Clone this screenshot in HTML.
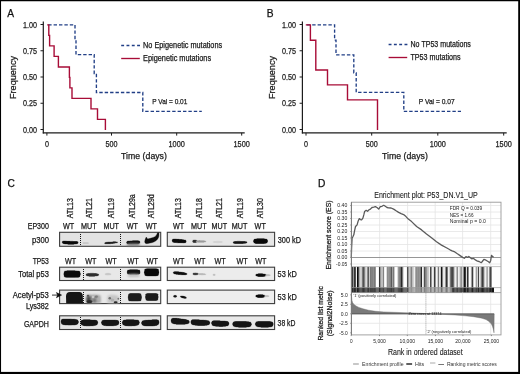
<!DOCTYPE html>
<html><head><meta charset="utf-8"><style>
html,body{margin:0;padding:0;background:#fff;}
svg{display:block;font-family:"Liberation Sans", sans-serif;will-change:transform;}
</style></head><body>
<svg width="520" height="374" viewBox="0 0 520 374">
<defs><filter id="bl3" x="-50%" y="-100%" width="200%" height="300%"><feGaussianBlur stdDeviation="0.3"/></filter><filter id="bl4" x="-50%" y="-100%" width="200%" height="300%"><feGaussianBlur stdDeviation="0.4"/></filter><filter id="bl5" x="-50%" y="-100%" width="200%" height="300%"><feGaussianBlur stdDeviation="0.5"/></filter><filter id="bl6" x="-50%" y="-100%" width="200%" height="300%"><feGaussianBlur stdDeviation="0.6"/></filter><filter id="bl7" x="-50%" y="-100%" width="200%" height="300%"><feGaussianBlur stdDeviation="0.7"/></filter><filter id="bl8" x="-50%" y="-100%" width="200%" height="300%"><feGaussianBlur stdDeviation="0.8"/></filter><filter id="bl9" x="-50%" y="-100%" width="200%" height="300%"><feGaussianBlur stdDeviation="0.9"/></filter><filter id="bl10" x="-50%" y="-100%" width="200%" height="300%"><feGaussianBlur stdDeviation="1.0"/></filter><filter id="bl11" x="-50%" y="-100%" width="200%" height="300%"><feGaussianBlur stdDeviation="1.1"/></filter><filter id="bl12" x="-50%" y="-100%" width="200%" height="300%"><feGaussianBlur stdDeviation="1.2"/></filter></defs>
<rect x="0" y="0" width="520" height="374" fill="#000"/>
<rect x="1.05" y="1.25" width="517.15" height="370.65" fill="#fff"/>
<text x="7.3" y="16.8" font-size="10.2" text-anchor="start" fill="#111" stroke="#111" stroke-width="0.25">A</text>
<line x1="43.3" y1="21.5" x2="43.3" y2="133.5" stroke="#1c1c1c" stroke-width="1.2"/>
<line x1="42.8" y1="132.9" x2="244.7" y2="132.9" stroke="#1c1c1c" stroke-width="1.2"/>
<line x1="40.5" y1="24.5" x2="43.3" y2="24.5" stroke="#1c1c1c" stroke-width="1"/>
<text x="36.9" y="27.6" font-size="8.6" text-anchor="end" fill="#222" textLength="14" lengthAdjust="spacingAndGlyphs" stroke="#222" stroke-width="0.25">1.00</text>
<line x1="40.5" y1="50.75" x2="43.3" y2="50.75" stroke="#1c1c1c" stroke-width="1"/>
<text x="36.9" y="53.85" font-size="8.6" text-anchor="end" fill="#222" textLength="14" lengthAdjust="spacingAndGlyphs" stroke="#222" stroke-width="0.25">0.75</text>
<line x1="40.5" y1="77.0" x2="43.3" y2="77.0" stroke="#1c1c1c" stroke-width="1"/>
<text x="36.9" y="80.1" font-size="8.6" text-anchor="end" fill="#222" textLength="14" lengthAdjust="spacingAndGlyphs" stroke="#222" stroke-width="0.25">0.50</text>
<line x1="40.5" y1="103.25" x2="43.3" y2="103.25" stroke="#1c1c1c" stroke-width="1"/>
<text x="36.9" y="106.35" font-size="8.6" text-anchor="end" fill="#222" textLength="14" lengthAdjust="spacingAndGlyphs" stroke="#222" stroke-width="0.25">0.25</text>
<line x1="40.5" y1="129.5" x2="43.3" y2="129.5" stroke="#1c1c1c" stroke-width="1"/>
<text x="36.9" y="132.6" font-size="8.6" text-anchor="end" fill="#222" textLength="14" lengthAdjust="spacingAndGlyphs" stroke="#222" stroke-width="0.25">0.00</text>
<line x1="46.9" y1="132.9" x2="46.9" y2="135.6" stroke="#1c1c1c" stroke-width="1"/>
<text x="46.9" y="146.8" font-size="8.4" text-anchor="middle" fill="#222" textLength="4" lengthAdjust="spacingAndGlyphs" stroke="#222" stroke-width="0.25">0</text>
<line x1="111.5" y1="132.9" x2="111.5" y2="135.6" stroke="#1c1c1c" stroke-width="1"/>
<text x="111.5" y="146.8" font-size="8.4" text-anchor="middle" fill="#222" textLength="12" lengthAdjust="spacingAndGlyphs" stroke="#222" stroke-width="0.25">500</text>
<line x1="176.7" y1="132.9" x2="176.7" y2="135.6" stroke="#1c1c1c" stroke-width="1"/>
<text x="176.7" y="146.8" font-size="8.4" text-anchor="middle" fill="#222" textLength="16.3" lengthAdjust="spacingAndGlyphs" stroke="#222" stroke-width="0.25">1000</text>
<line x1="241.7" y1="132.9" x2="241.7" y2="135.6" stroke="#1c1c1c" stroke-width="1"/>
<text x="241.7" y="146.8" font-size="8.4" text-anchor="middle" fill="#222" textLength="16.3" lengthAdjust="spacingAndGlyphs" stroke="#222" stroke-width="0.25">1500</text>
<text x="121.1" y="159.2" font-size="8.8" text-anchor="start" fill="#1a1a1a" textLength="45.8" lengthAdjust="spacingAndGlyphs" stroke="#1a1a1a" stroke-width="0.25">Time (days)</text>
<text transform="translate(16.199999999999996,77.5) rotate(-90)" font-size="9.6" text-anchor="middle" fill="#1a1a1a" textLength="43" lengthAdjust="spacingAndGlyphs" stroke="#1a1a1a" stroke-width="0.25">Frequency</text>
<path d="M47.2 24.5 H75 V39.5 H76 V54.3 H94.2 V73.2 H96.4 V92.2 H142.8 V111.1 H201.8" fill="none" stroke="#213f86" stroke-width="1.35" stroke-dasharray="3.4 2.0" stroke-dashoffset="-1" transform="translate(0,0.3)"/>
<path d="M47.2 24.5 H48.8 V35 H49.6 V45.5 H54.1 V56 H58.4 V66.6 H69.4 V77 H69.9 V87.5 H72 V98 H91 V108.5 H97.5 V119 H105.4 V129.5" fill="none" stroke="#a80c37" stroke-width="1.4" transform="translate(0,0.4)"/>
<line x1="121.2" y1="45.5" x2="140.0" y2="45.5" stroke="#213f86" stroke-width="1.35" stroke-dasharray="2.9 2.4"/>
<line x1="121.2" y1="58.5" x2="139.8" y2="58.5" stroke="#a80c37" stroke-width="1.35"/>
<text x="143.1" y="47.8" font-size="8.2" text-anchor="start" fill="#1a1a1a" textLength="79" lengthAdjust="spacingAndGlyphs" stroke="#1a1a1a" stroke-width="0.25">No Epigenetic mutations</text>
<text x="143.1" y="60.8" font-size="8.2" text-anchor="start" fill="#1a1a1a" textLength="68" lengthAdjust="spacingAndGlyphs" stroke="#1a1a1a" stroke-width="0.25">Epigenetic mutations</text>
<text x="152.3" y="103.9" font-size="8.0" text-anchor="start" fill="#1a1a1a" textLength="35" lengthAdjust="spacingAndGlyphs" stroke="#1a1a1a" stroke-width="0.25">P Val = 0.01</text>
<text x="266.8" y="16.8" font-size="10.2" text-anchor="start" fill="#111" stroke="#111" stroke-width="0.25">B</text>
<line x1="302.4" y1="21.5" x2="302.4" y2="133.5" stroke="#1c1c1c" stroke-width="1.2"/>
<line x1="301.9" y1="132.9" x2="506.7" y2="132.9" stroke="#1c1c1c" stroke-width="1.2"/>
<line x1="299.59999999999997" y1="24.5" x2="302.4" y2="24.5" stroke="#1c1c1c" stroke-width="1"/>
<text x="296.0" y="27.6" font-size="8.6" text-anchor="end" fill="#222" textLength="14" lengthAdjust="spacingAndGlyphs" stroke="#222" stroke-width="0.25">1.00</text>
<line x1="299.59999999999997" y1="50.75" x2="302.4" y2="50.75" stroke="#1c1c1c" stroke-width="1"/>
<text x="296.0" y="53.85" font-size="8.6" text-anchor="end" fill="#222" textLength="14" lengthAdjust="spacingAndGlyphs" stroke="#222" stroke-width="0.25">0.75</text>
<line x1="299.59999999999997" y1="77.0" x2="302.4" y2="77.0" stroke="#1c1c1c" stroke-width="1"/>
<text x="296.0" y="80.1" font-size="8.6" text-anchor="end" fill="#222" textLength="14" lengthAdjust="spacingAndGlyphs" stroke="#222" stroke-width="0.25">0.50</text>
<line x1="299.59999999999997" y1="103.25" x2="302.4" y2="103.25" stroke="#1c1c1c" stroke-width="1"/>
<text x="296.0" y="106.35" font-size="8.6" text-anchor="end" fill="#222" textLength="14" lengthAdjust="spacingAndGlyphs" stroke="#222" stroke-width="0.25">0.25</text>
<line x1="299.59999999999997" y1="129.5" x2="302.4" y2="129.5" stroke="#1c1c1c" stroke-width="1"/>
<text x="296.0" y="132.6" font-size="8.6" text-anchor="end" fill="#222" textLength="14" lengthAdjust="spacingAndGlyphs" stroke="#222" stroke-width="0.25">0.00</text>
<line x1="306" y1="132.9" x2="306" y2="135.6" stroke="#1c1c1c" stroke-width="1"/>
<text x="306" y="146.8" font-size="8.4" text-anchor="middle" fill="#222" textLength="4" lengthAdjust="spacingAndGlyphs" stroke="#222" stroke-width="0.25">0</text>
<line x1="371.7" y1="132.9" x2="371.7" y2="135.6" stroke="#1c1c1c" stroke-width="1"/>
<text x="371.7" y="146.8" font-size="8.4" text-anchor="middle" fill="#222" textLength="12" lengthAdjust="spacingAndGlyphs" stroke="#222" stroke-width="0.25">500</text>
<line x1="437.8" y1="132.9" x2="437.8" y2="135.6" stroke="#1c1c1c" stroke-width="1"/>
<text x="437.8" y="146.8" font-size="8.4" text-anchor="middle" fill="#222" textLength="16.3" lengthAdjust="spacingAndGlyphs" stroke="#222" stroke-width="0.25">1000</text>
<line x1="503.7" y1="132.9" x2="503.7" y2="135.6" stroke="#1c1c1c" stroke-width="1"/>
<text x="503.7" y="146.8" font-size="8.4" text-anchor="middle" fill="#222" textLength="16.3" lengthAdjust="spacingAndGlyphs" stroke="#222" stroke-width="0.25">1500</text>
<text x="382.0" y="159.2" font-size="8.8" text-anchor="start" fill="#1a1a1a" textLength="45.8" lengthAdjust="spacingAndGlyphs" stroke="#1a1a1a" stroke-width="0.25">Time (days)</text>
<text transform="translate(275.29999999999995,77.5) rotate(-90)" font-size="9.6" text-anchor="middle" fill="#1a1a1a" textLength="43" lengthAdjust="spacingAndGlyphs" stroke="#1a1a1a" stroke-width="0.25">Frequency</text>
<path d="M305.8 24.5 H334.6 V39.8 H336 V54.6 H353.8 V72.5 H356.2 V92 H403.8 V111.1 H461" fill="none" stroke="#213f86" stroke-width="1.35" stroke-dasharray="3.4 2.0" stroke-dashoffset="-1" transform="translate(0,0.3)"/>
<path d="M305.8 24.5 H310.4 V39.8 H315.8 V69.6 H327.5 V84.5 H347.5 V99.5 H377.5 V129.5" fill="none" stroke="#a80c37" stroke-width="1.4" transform="translate(0,0.4)"/>
<line x1="388.6" y1="44.5" x2="407.40000000000003" y2="44.5" stroke="#213f86" stroke-width="1.35" stroke-dasharray="2.9 2.4"/>
<line x1="388.6" y1="57.5" x2="407.20000000000005" y2="57.5" stroke="#a80c37" stroke-width="1.35"/>
<text x="410.5" y="46.8" font-size="8.2" text-anchor="start" fill="#1a1a1a" textLength="60.4" lengthAdjust="spacingAndGlyphs" stroke="#1a1a1a" stroke-width="0.25">No TP53 mutations</text>
<text x="410.5" y="59.8" font-size="8.2" text-anchor="start" fill="#1a1a1a" textLength="50" lengthAdjust="spacingAndGlyphs" stroke="#1a1a1a" stroke-width="0.25">TP53 mutations</text>
<text x="418.8" y="103.9" font-size="8.0" text-anchor="start" fill="#1a1a1a" textLength="35.8" lengthAdjust="spacingAndGlyphs" stroke="#1a1a1a" stroke-width="0.25">P Val = 0.07</text>
<text x="7.4" y="187.3" font-size="10.2" text-anchor="start" fill="#111" stroke="#111" stroke-width="0.25">C</text>
<text transform="translate(73.0,218.2) rotate(-90)" font-size="8.2" text-anchor="start" fill="#1a1a1a" textLength="20.0" lengthAdjust="spacingAndGlyphs" stroke="#1a1a1a" stroke-width="0.25">ATL13</text>
<text transform="translate(91.9,218.2) rotate(-90)" font-size="8.2" text-anchor="start" fill="#1a1a1a" textLength="20.0" lengthAdjust="spacingAndGlyphs" stroke="#1a1a1a" stroke-width="0.25">ATL21</text>
<text transform="translate(114.1,218.2) rotate(-90)" font-size="8.2" text-anchor="start" fill="#1a1a1a" textLength="20.0" lengthAdjust="spacingAndGlyphs" stroke="#1a1a1a" stroke-width="0.25">ATL19</text>
<text transform="translate(135.0,218.2) rotate(-90)" font-size="8.2" text-anchor="start" fill="#1a1a1a" textLength="23.9" lengthAdjust="spacingAndGlyphs" stroke="#1a1a1a" stroke-width="0.25">ATL29a</text>
<text transform="translate(154.4,218.2) rotate(-90)" font-size="8.2" text-anchor="start" fill="#1a1a1a" textLength="23.9" lengthAdjust="spacingAndGlyphs" stroke="#1a1a1a" stroke-width="0.25">ATL29d</text>
<text transform="translate(181.0,218.2) rotate(-90)" font-size="8.2" text-anchor="start" fill="#1a1a1a" textLength="20.0" lengthAdjust="spacingAndGlyphs" stroke="#1a1a1a" stroke-width="0.25">ATL13</text>
<text transform="translate(201.8,218.2) rotate(-90)" font-size="8.2" text-anchor="start" fill="#1a1a1a" textLength="20.0" lengthAdjust="spacingAndGlyphs" stroke="#1a1a1a" stroke-width="0.25">ATL18</text>
<text transform="translate(222.4,218.2) rotate(-90)" font-size="8.2" text-anchor="start" fill="#1a1a1a" textLength="20.0" lengthAdjust="spacingAndGlyphs" stroke="#1a1a1a" stroke-width="0.25">ATL21</text>
<text transform="translate(242.6,218.2) rotate(-90)" font-size="8.2" text-anchor="start" fill="#1a1a1a" textLength="20.0" lengthAdjust="spacingAndGlyphs" stroke="#1a1a1a" stroke-width="0.25">ATL19</text>
<text transform="translate(263.0,218.2) rotate(-90)" font-size="8.2" text-anchor="start" fill="#1a1a1a" textLength="20.0" lengthAdjust="spacingAndGlyphs" stroke="#1a1a1a" stroke-width="0.25">ATL30</text>
<text x="68.6" y="228.6" font-size="8.2" text-anchor="middle" fill="#1a1a1a" textLength="11.2" lengthAdjust="spacingAndGlyphs" stroke="#1a1a1a" stroke-width="0.25">WT</text>
<text x="88.9" y="228.6" font-size="8.2" text-anchor="middle" fill="#1a1a1a" textLength="15.6" lengthAdjust="spacingAndGlyphs" stroke="#1a1a1a" stroke-width="0.25">MUT</text>
<text x="111.2" y="228.6" font-size="8.2" text-anchor="middle" fill="#1a1a1a" textLength="15.6" lengthAdjust="spacingAndGlyphs" stroke="#1a1a1a" stroke-width="0.25">MUT</text>
<text x="132.3" y="228.6" font-size="8.2" text-anchor="middle" fill="#1a1a1a" textLength="11.2" lengthAdjust="spacingAndGlyphs" stroke="#1a1a1a" stroke-width="0.25">WT</text>
<text x="151.3" y="228.6" font-size="8.2" text-anchor="middle" fill="#1a1a1a" textLength="11.2" lengthAdjust="spacingAndGlyphs" stroke="#1a1a1a" stroke-width="0.25">WT</text>
<text x="178.6" y="228.6" font-size="8.2" text-anchor="middle" fill="#1a1a1a" textLength="11.2" lengthAdjust="spacingAndGlyphs" stroke="#1a1a1a" stroke-width="0.25">WT</text>
<text x="198.8" y="228.6" font-size="8.2" text-anchor="middle" fill="#1a1a1a" textLength="15.6" lengthAdjust="spacingAndGlyphs" stroke="#1a1a1a" stroke-width="0.25">MUT</text>
<text x="219.4" y="228.6" font-size="8.2" text-anchor="middle" fill="#1a1a1a" textLength="15.6" lengthAdjust="spacingAndGlyphs" stroke="#1a1a1a" stroke-width="0.25">MUT</text>
<text x="239.6" y="228.6" font-size="8.2" text-anchor="middle" fill="#1a1a1a" textLength="15.6" lengthAdjust="spacingAndGlyphs" stroke="#1a1a1a" stroke-width="0.25">MUT</text>
<text x="260.2" y="228.6" font-size="8.2" text-anchor="middle" fill="#1a1a1a" textLength="11.2" lengthAdjust="spacingAndGlyphs" stroke="#1a1a1a" stroke-width="0.25">WT</text>
<text x="70.6" y="263.8" font-size="8.2" text-anchor="middle" fill="#1a1a1a" textLength="11.2" lengthAdjust="spacingAndGlyphs" stroke="#1a1a1a" stroke-width="0.25">WT</text>
<text x="90.9" y="263.8" font-size="8.2" text-anchor="middle" fill="#1a1a1a" textLength="11.2" lengthAdjust="spacingAndGlyphs" stroke="#1a1a1a" stroke-width="0.25">WT</text>
<text x="111.0" y="263.8" font-size="8.2" text-anchor="middle" fill="#1a1a1a" textLength="11.2" lengthAdjust="spacingAndGlyphs" stroke="#1a1a1a" stroke-width="0.25">WT</text>
<text x="133.0" y="263.8" font-size="8.2" text-anchor="middle" fill="#1a1a1a" textLength="11.2" lengthAdjust="spacingAndGlyphs" stroke="#1a1a1a" stroke-width="0.25">WT</text>
<text x="152.3" y="263.8" font-size="8.2" text-anchor="middle" fill="#1a1a1a" textLength="11.2" lengthAdjust="spacingAndGlyphs" stroke="#1a1a1a" stroke-width="0.25">WT</text>
<text x="178.7" y="263.8" font-size="8.2" text-anchor="middle" fill="#1a1a1a" textLength="11.2" lengthAdjust="spacingAndGlyphs" stroke="#1a1a1a" stroke-width="0.25">WT</text>
<text x="199.8" y="263.8" font-size="8.2" text-anchor="middle" fill="#1a1a1a" textLength="11.2" lengthAdjust="spacingAndGlyphs" stroke="#1a1a1a" stroke-width="0.25">WT</text>
<text x="220.0" y="263.8" font-size="8.2" text-anchor="middle" fill="#1a1a1a" textLength="11.2" lengthAdjust="spacingAndGlyphs" stroke="#1a1a1a" stroke-width="0.25">WT</text>
<text x="242.1" y="263.8" font-size="8.2" text-anchor="middle" fill="#1a1a1a" textLength="11.2" lengthAdjust="spacingAndGlyphs" stroke="#1a1a1a" stroke-width="0.25">WT</text>
<text x="260.9" y="263.8" font-size="8.2" text-anchor="middle" fill="#1a1a1a" textLength="11.2" lengthAdjust="spacingAndGlyphs" stroke="#1a1a1a" stroke-width="0.25">WT</text>
<text x="48.9" y="228.8" font-size="8.2" text-anchor="end" fill="#1a1a1a" textLength="21.2" lengthAdjust="spacingAndGlyphs" stroke="#1a1a1a" stroke-width="0.25">EP300</text>
<text x="48.9" y="243.4" font-size="8.2" text-anchor="end" fill="#1a1a1a" textLength="17.0" lengthAdjust="spacingAndGlyphs" stroke="#1a1a1a" stroke-width="0.25">p300</text>
<text x="48.9" y="263.9" font-size="8.2" text-anchor="end" fill="#1a1a1a" textLength="16.2" lengthAdjust="spacingAndGlyphs" stroke="#1a1a1a" stroke-width="0.25">TP53</text>
<text x="48.9" y="276.8" font-size="8.2" text-anchor="end" fill="#1a1a1a" textLength="30.6" lengthAdjust="spacingAndGlyphs" stroke="#1a1a1a" stroke-width="0.25">Total p53</text>
<text x="48.9" y="297.8" font-size="8.2" text-anchor="end" fill="#1a1a1a" textLength="36.2" lengthAdjust="spacingAndGlyphs" stroke="#1a1a1a" stroke-width="0.25">Acetyl-p53</text>
<text x="48.9" y="308.6" font-size="8.2" text-anchor="end" fill="#1a1a1a" textLength="23.0" lengthAdjust="spacingAndGlyphs" stroke="#1a1a1a" stroke-width="0.25">Lys382</text>
<text x="48.9" y="327.0" font-size="8.2" text-anchor="end" fill="#1a1a1a" textLength="25.0" lengthAdjust="spacingAndGlyphs" stroke="#1a1a1a" stroke-width="0.25">GAPDH</text>
<text x="277.8" y="242.5" font-size="8.2" text-anchor="start" fill="#1a1a1a" textLength="23.2" lengthAdjust="spacingAndGlyphs" stroke="#1a1a1a" stroke-width="0.25">300 kD</text>
<text x="277.6" y="276.6" font-size="8.2" text-anchor="start" fill="#1a1a1a" textLength="19.3" lengthAdjust="spacingAndGlyphs" stroke="#1a1a1a" stroke-width="0.25">53 kD</text>
<text x="277.6" y="299.7" font-size="8.2" text-anchor="start" fill="#1a1a1a" textLength="19.3" lengthAdjust="spacingAndGlyphs" stroke="#1a1a1a" stroke-width="0.25">53 kD</text>
<text x="277.6" y="326.4" font-size="8.2" text-anchor="start" fill="#1a1a1a" textLength="17.8" lengthAdjust="spacingAndGlyphs" stroke="#1a1a1a" stroke-width="0.25">38 kD</text>
<rect x="59.6" y="232.3" width="101.1" height="14.0" fill="#e3e3e3" stroke="#3c3c3c" stroke-width="1.1"/>
<rect x="167.3" y="232.3" width="107.30000000000001" height="14.0" fill="#e6e6e6" stroke="#3c3c3c" stroke-width="1.1"/>
<rect x="59.6" y="267.2" width="101.1" height="13.300000000000011" fill="#e8e8e8" stroke="#3c3c3c" stroke-width="1.1"/>
<rect x="167.3" y="267.2" width="107.30000000000001" height="13.300000000000011" fill="#ececec" stroke="#3c3c3c" stroke-width="1.1"/>
<rect x="59.6" y="290.1" width="101.1" height="13.5" fill="#e8e8e8" stroke="#3c3c3c" stroke-width="1.1"/>
<rect x="167.3" y="290.1" width="107.30000000000001" height="13.5" fill="#eeeeee" stroke="#3c3c3c" stroke-width="1.1"/>
<rect x="59.6" y="315.8" width="101.1" height="13.699999999999989" fill="#e6e6e6" stroke="#3c3c3c" stroke-width="1.1"/>
<rect x="167.3" y="315.8" width="107.30000000000001" height="13.699999999999989" fill="#e8e8e8" stroke="#3c3c3c" stroke-width="1.1"/>
<path d="M62.20,242.10 L62.87,241.24 L63.53,241.13 L64.20,241.10 L64.87,241.11 L65.53,241.13 L66.20,241.16 L66.87,241.20 L67.53,241.24 L68.20,241.28 L68.87,241.32 L69.53,241.35 L70.20,241.38 L70.87,241.39 L71.53,241.41 L72.20,241.42 L72.87,241.42 L73.53,241.43 L74.20,241.44 L74.87,241.45 L75.53,241.47 L76.20,241.50 L76.87,241.56 L77.53,241.69 L78.20,242.50 L78.20,242.50 L77.53,243.43 L76.87,243.68 L76.20,243.84 L75.53,243.96 L74.87,244.05 L74.20,244.11 L73.53,244.16 L72.87,244.20 L72.20,244.22 L71.53,244.23 L70.87,244.23 L70.20,244.23 L69.53,244.21 L68.87,244.19 L68.20,244.16 L67.53,244.11 L66.87,244.06 L66.20,243.99 L65.53,243.89 L64.87,243.78 L64.20,243.63 L63.53,243.44 L62.87,243.16 L62.20,242.10 Z" fill="#0a0a0a" opacity="1.0" stroke="#0a0a0a" stroke-opacity="0.3" stroke-width="1.1" stroke-linejoin="round"/>
<path d="M62.20,242.10 L62.87,241.24 L63.53,241.13 L64.20,241.10 L64.87,241.11 L65.53,241.13 L66.20,241.16 L66.87,241.20 L67.53,241.24 L68.20,241.28 L68.87,241.32 L69.53,241.35 L70.20,241.38 L70.87,241.39 L71.53,241.41 L72.20,241.42 L72.87,241.42 L73.53,241.43 L74.20,241.44 L74.87,241.45 L75.53,241.47 L76.20,241.50 L76.87,241.56 L77.53,241.69 L78.20,242.50 L78.20,242.50 L77.53,243.43 L76.87,243.68 L76.20,243.84 L75.53,243.96 L74.87,244.05 L74.20,244.11 L73.53,244.16 L72.87,244.20 L72.20,244.22 L71.53,244.23 L70.87,244.23 L70.20,244.23 L69.53,244.21 L68.87,244.19 L68.20,244.16 L67.53,244.11 L66.87,244.06 L66.20,243.99 L65.53,243.89 L64.87,243.78 L64.20,243.63 L63.53,243.44 L62.87,243.16 L62.20,242.10 Z" fill="#0a0a0a" opacity="1.0"/>
<path d="M82.80,243.10 L83.04,242.67 L83.28,242.58 L83.52,242.53 L83.77,242.49 L84.01,242.47 L84.25,242.45 L84.49,242.45 L84.73,242.44 L84.97,242.44 L85.22,242.44 L85.46,242.45 L85.70,242.45 L85.94,242.45 L86.18,242.46 L86.42,242.47 L86.67,242.47 L86.91,242.49 L87.15,242.50 L87.39,242.52 L87.63,242.55 L87.88,242.59 L88.12,242.64 L88.36,242.73 L88.60,243.10 L88.60,243.10 L88.36,243.47 L88.12,243.56 L87.88,243.61 L87.63,243.65 L87.39,243.68 L87.15,243.70 L86.91,243.71 L86.67,243.73 L86.42,243.73 L86.18,243.74 L85.94,243.75 L85.70,243.75 L85.46,243.75 L85.22,243.76 L84.97,243.76 L84.73,243.76 L84.49,243.75 L84.25,243.75 L84.01,243.73 L83.77,243.71 L83.52,243.67 L83.28,243.62 L83.04,243.53 L82.80,243.10 Z" fill="#c8c8c8" opacity="1.0" stroke="#c8c8c8" stroke-opacity="0.3" stroke-width="1.1" stroke-linejoin="round"/>
<path d="M82.80,243.10 L83.04,242.67 L83.28,242.58 L83.52,242.53 L83.77,242.49 L84.01,242.47 L84.25,242.45 L84.49,242.45 L84.73,242.44 L84.97,242.44 L85.22,242.44 L85.46,242.45 L85.70,242.45 L85.94,242.45 L86.18,242.46 L86.42,242.47 L86.67,242.47 L86.91,242.49 L87.15,242.50 L87.39,242.52 L87.63,242.55 L87.88,242.59 L88.12,242.64 L88.36,242.73 L88.60,243.10 L88.60,243.10 L88.36,243.47 L88.12,243.56 L87.88,243.61 L87.63,243.65 L87.39,243.68 L87.15,243.70 L86.91,243.71 L86.67,243.73 L86.42,243.73 L86.18,243.74 L85.94,243.75 L85.70,243.75 L85.46,243.75 L85.22,243.76 L84.97,243.76 L84.73,243.76 L84.49,243.75 L84.25,243.75 L84.01,243.73 L83.77,243.71 L83.52,243.67 L83.28,243.62 L83.04,243.53 L82.80,243.10 Z" fill="#c8c8c8" opacity="1.0"/>
<path d="M104.60,243.20 L105.14,242.67 L105.68,242.51 L106.22,242.39 L106.77,242.30 L107.31,242.23 L107.85,242.17 L108.39,242.12 L108.93,242.07 L109.47,242.04 L110.02,242.00 L110.56,241.98 L111.10,241.95 L111.64,241.93 L112.18,241.90 L112.72,241.88 L113.27,241.87 L113.81,241.86 L114.35,241.85 L114.89,241.86 L115.43,241.87 L115.97,241.89 L116.52,241.92 L117.06,241.99 L117.60,242.30 L117.60,242.30 L117.06,242.68 L116.52,242.83 L115.97,242.94 L115.43,243.03 L114.89,243.12 L114.35,243.20 L113.81,243.27 L113.27,243.33 L112.72,243.39 L112.18,243.45 L111.64,243.50 L111.10,243.55 L110.56,243.60 L110.02,243.65 L109.47,243.69 L108.93,243.73 L108.39,243.76 L107.85,243.78 L107.31,243.80 L106.77,243.80 L106.22,243.79 L105.68,243.74 L105.14,243.65 L104.60,243.20 Z" fill="#202020" opacity="1.0" stroke="#202020" stroke-opacity="0.3" stroke-width="1.1" stroke-linejoin="round"/>
<path d="M104.60,243.20 L105.14,242.67 L105.68,242.51 L106.22,242.39 L106.77,242.30 L107.31,242.23 L107.85,242.17 L108.39,242.12 L108.93,242.07 L109.47,242.04 L110.02,242.00 L110.56,241.98 L111.10,241.95 L111.64,241.93 L112.18,241.90 L112.72,241.88 L113.27,241.87 L113.81,241.86 L114.35,241.85 L114.89,241.86 L115.43,241.87 L115.97,241.89 L116.52,241.92 L117.06,241.99 L117.60,242.30 L117.60,242.30 L117.06,242.68 L116.52,242.83 L115.97,242.94 L115.43,243.03 L114.89,243.12 L114.35,243.20 L113.81,243.27 L113.27,243.33 L112.72,243.39 L112.18,243.45 L111.64,243.50 L111.10,243.55 L110.56,243.60 L110.02,243.65 L109.47,243.69 L108.93,243.73 L108.39,243.76 L107.85,243.78 L107.31,243.80 L106.77,243.80 L106.22,243.79 L105.68,243.74 L105.14,243.65 L104.60,243.20 Z" fill="#202020" opacity="1.0"/>
<path d="M126.60,242.50 L127.15,241.38 L127.71,241.20 L128.26,241.10 L128.82,241.03 L129.37,240.98 L129.93,240.95 L130.48,240.92 L131.03,240.90 L131.59,240.89 L132.14,240.88 L132.70,240.86 L133.25,240.85 L133.80,240.84 L134.36,240.83 L134.91,240.81 L135.47,240.80 L136.02,240.80 L136.57,240.80 L137.13,240.81 L137.68,240.83 L138.24,240.87 L138.79,240.95 L139.35,241.11 L139.90,242.20 L139.90,242.20 L139.35,243.32 L138.79,243.50 L138.24,243.60 L137.68,243.67 L137.13,243.72 L136.57,243.75 L136.02,243.78 L135.47,243.80 L134.91,243.81 L134.36,243.82 L133.80,243.84 L133.25,243.85 L132.70,243.86 L132.14,243.87 L131.59,243.89 L131.03,243.90 L130.48,243.90 L129.93,243.90 L129.37,243.89 L128.82,243.87 L128.26,243.83 L127.71,243.75 L127.15,243.59 L126.60,242.50 Z" fill="#0e0e0e" opacity="1.0" stroke="#0e0e0e" stroke-opacity="0.3" stroke-width="1.1" stroke-linejoin="round"/>
<path d="M126.60,242.50 L127.15,241.38 L127.71,241.20 L128.26,241.10 L128.82,241.03 L129.37,240.98 L129.93,240.95 L130.48,240.92 L131.03,240.90 L131.59,240.89 L132.14,240.88 L132.70,240.86 L133.25,240.85 L133.80,240.84 L134.36,240.83 L134.91,240.81 L135.47,240.80 L136.02,240.80 L136.57,240.80 L137.13,240.81 L137.68,240.83 L138.24,240.87 L138.79,240.95 L139.35,241.11 L139.90,242.20 L139.90,242.20 L139.35,243.32 L138.79,243.50 L138.24,243.60 L137.68,243.67 L137.13,243.72 L136.57,243.75 L136.02,243.78 L135.47,243.80 L134.91,243.81 L134.36,243.82 L133.80,243.84 L133.25,243.85 L132.70,243.86 L132.14,243.87 L131.59,243.89 L131.03,243.90 L130.48,243.90 L129.93,243.90 L129.37,243.89 L128.82,243.87 L128.26,243.83 L127.71,243.75 L127.15,243.59 L126.60,242.50 Z" fill="#0e0e0e" opacity="1.0"/>
<path d="M126.90,244.70 L127.44,243.67 L127.98,243.51 L128.51,243.43 L129.05,243.37 L129.59,243.34 L130.12,243.32 L130.66,243.31 L131.20,243.30 L131.74,243.30 L132.28,243.30 L132.81,243.30 L133.35,243.30 L133.89,243.30 L134.43,243.30 L134.96,243.30 L135.50,243.30 L136.04,243.31 L136.58,243.32 L137.11,243.34 L137.65,243.37 L138.19,243.43 L138.73,243.51 L139.26,243.67 L139.80,244.70 L139.80,244.70 L139.26,245.73 L138.73,245.89 L138.19,245.97 L137.65,246.03 L137.11,246.06 L136.58,246.08 L136.04,246.09 L135.50,246.10 L134.96,246.10 L134.43,246.10 L133.89,246.10 L133.35,246.10 L132.81,246.10 L132.28,246.10 L131.74,246.10 L131.20,246.10 L130.66,246.09 L130.12,246.08 L129.59,246.06 L129.05,246.03 L128.51,245.97 L127.98,245.89 L127.44,245.73 L126.90,244.70 Z" fill="#7a7a7a" opacity="1.0" filter="url(#bl8)"/>
<path d="M146.3,237.0 L147.7,238.9 C150,238.5 151,238.1 152,237.8 C153.8,237.2 154.8,236.8 155.5,236.2 C156.5,235.3 157.2,233.8 157.5,232.8 L158.9,232.7 C159.1,234.5 159.0,236.3 158.6,237.2 C158.1,238.7 157.1,239.9 156.0,240.8 C154.5,241.9 152.2,242.6 150.0,243.1 C148.5,243.5 146.8,243.7 145.9,243.6 C145.1,243.3 144.7,242.6 144.7,241.8 C144.8,240.0 145.5,238.3 146.3,237.0 Z" fill="#0d0d0d" stroke="#0d0d0d" stroke-opacity="0.3" stroke-width="1.0"/>
<path d="M172.20,240.60 L172.78,239.32 L173.37,239.17 L173.95,239.11 L174.53,239.09 L175.12,239.10 L175.70,239.13 L176.28,239.16 L176.87,239.21 L177.45,239.25 L178.03,239.30 L178.62,239.35 L179.20,239.40 L179.78,239.45 L180.37,239.50 L180.95,239.55 L181.53,239.60 L182.12,239.66 L182.70,239.73 L183.28,239.80 L183.87,239.88 L184.45,239.99 L185.03,240.13 L185.62,240.35 L186.20,241.50 L186.20,241.50 L185.62,242.58 L185.03,242.72 L184.45,242.79 L183.87,242.82 L183.28,242.83 L182.70,242.82 L182.12,242.81 L181.53,242.80 L180.95,242.77 L180.37,242.75 L179.78,242.72 L179.20,242.70 L178.62,242.67 L178.03,242.65 L177.45,242.62 L176.87,242.59 L176.28,242.56 L175.70,242.52 L175.12,242.47 L174.53,242.41 L173.95,242.32 L173.37,242.18 L172.78,241.95 L172.20,240.60 Z" fill="#0a0a0a" opacity="1.0" stroke="#0a0a0a" stroke-opacity="0.3" stroke-width="1.1" stroke-linejoin="round"/>
<path d="M172.20,240.60 L172.78,239.32 L173.37,239.17 L173.95,239.11 L174.53,239.09 L175.12,239.10 L175.70,239.13 L176.28,239.16 L176.87,239.21 L177.45,239.25 L178.03,239.30 L178.62,239.35 L179.20,239.40 L179.78,239.45 L180.37,239.50 L180.95,239.55 L181.53,239.60 L182.12,239.66 L182.70,239.73 L183.28,239.80 L183.87,239.88 L184.45,239.99 L185.03,240.13 L185.62,240.35 L186.20,241.50 L186.20,241.50 L185.62,242.58 L185.03,242.72 L184.45,242.79 L183.87,242.82 L183.28,242.83 L182.70,242.82 L182.12,242.81 L181.53,242.80 L180.95,242.77 L180.37,242.75 L179.78,242.72 L179.20,242.70 L178.62,242.67 L178.03,242.65 L177.45,242.62 L176.87,242.59 L176.28,242.56 L175.70,242.52 L175.12,242.47 L174.53,242.41 L173.95,242.32 L173.37,242.18 L172.78,241.95 L172.20,240.60 Z" fill="#0a0a0a" opacity="1.0"/>
<path d="M192.70,241.30 L192.88,240.63 L193.06,240.44 L193.24,240.32 L193.42,240.24 L193.60,240.18 L193.77,240.14 L193.95,240.12 L194.13,240.10 L194.31,240.09 L194.49,240.09 L194.67,240.09 L194.85,240.10 L195.03,240.11 L195.21,240.12 L195.39,240.14 L195.57,240.16 L195.75,240.20 L195.93,240.24 L196.10,240.29 L196.28,240.35 L196.46,240.44 L196.64,240.55 L196.82,240.72 L197.00,241.30 L197.00,241.30 L196.82,241.88 L196.64,242.05 L196.46,242.16 L196.28,242.25 L196.10,242.31 L195.93,242.36 L195.75,242.40 L195.57,242.44 L195.39,242.46 L195.21,242.48 L195.03,242.49 L194.85,242.50 L194.67,242.51 L194.49,242.51 L194.31,242.51 L194.13,242.50 L193.95,242.48 L193.77,242.46 L193.60,242.42 L193.42,242.36 L193.24,242.28 L193.06,242.16 L192.88,241.97 L192.70,241.30 Z" fill="#2e2e2e" opacity="1.0" stroke="#2e2e2e" stroke-opacity="0.3" stroke-width="1.1" stroke-linejoin="round"/>
<path d="M192.70,241.30 L192.88,240.63 L193.06,240.44 L193.24,240.32 L193.42,240.24 L193.60,240.18 L193.77,240.14 L193.95,240.12 L194.13,240.10 L194.31,240.09 L194.49,240.09 L194.67,240.09 L194.85,240.10 L195.03,240.11 L195.21,240.12 L195.39,240.14 L195.57,240.16 L195.75,240.20 L195.93,240.24 L196.10,240.29 L196.28,240.35 L196.46,240.44 L196.64,240.55 L196.82,240.72 L197.00,241.30 L197.00,241.30 L196.82,241.88 L196.64,242.05 L196.46,242.16 L196.28,242.25 L196.10,242.31 L195.93,242.36 L195.75,242.40 L195.57,242.44 L195.39,242.46 L195.21,242.48 L195.03,242.49 L194.85,242.50 L194.67,242.51 L194.49,242.51 L194.31,242.51 L194.13,242.50 L193.95,242.48 L193.77,242.46 L193.60,242.42 L193.42,242.36 L193.24,242.28 L193.06,242.16 L192.88,241.97 L192.70,241.30 Z" fill="#2e2e2e" opacity="1.0"/>
<path d="M196.00,241.40 L196.41,240.94 L196.82,240.82 L197.24,240.74 L197.65,240.69 L198.06,240.66 L198.47,240.64 L198.89,240.63 L199.30,240.62 L199.71,240.62 L200.12,240.63 L200.54,240.64 L200.95,240.65 L201.36,240.66 L201.78,240.68 L202.19,240.70 L202.60,240.72 L203.01,240.75 L203.43,240.78 L203.84,240.82 L204.25,240.87 L204.66,240.93 L205.08,241.01 L205.49,241.13 L205.90,241.50 L205.90,241.50 L205.49,241.86 L205.08,241.97 L204.66,242.04 L204.25,242.10 L203.84,242.14 L203.43,242.17 L203.01,242.19 L202.60,242.21 L202.19,242.23 L201.78,242.24 L201.36,242.25 L200.95,242.25 L200.54,242.25 L200.12,242.25 L199.71,242.25 L199.30,242.24 L198.89,242.23 L198.47,242.21 L198.06,242.18 L197.65,242.14 L197.24,242.08 L196.82,242.00 L196.41,241.87 L196.00,241.40 Z" fill="#9a9a9a" opacity="1.0" stroke="#9a9a9a" stroke-opacity="0.3" stroke-width="1.1" stroke-linejoin="round"/>
<path d="M196.00,241.40 L196.41,240.94 L196.82,240.82 L197.24,240.74 L197.65,240.69 L198.06,240.66 L198.47,240.64 L198.89,240.63 L199.30,240.62 L199.71,240.62 L200.12,240.63 L200.54,240.64 L200.95,240.65 L201.36,240.66 L201.78,240.68 L202.19,240.70 L202.60,240.72 L203.01,240.75 L203.43,240.78 L203.84,240.82 L204.25,240.87 L204.66,240.93 L205.08,241.01 L205.49,241.13 L205.90,241.50 L205.90,241.50 L205.49,241.86 L205.08,241.97 L204.66,242.04 L204.25,242.10 L203.84,242.14 L203.43,242.17 L203.01,242.19 L202.60,242.21 L202.19,242.23 L201.78,242.24 L201.36,242.25 L200.95,242.25 L200.54,242.25 L200.12,242.25 L199.71,242.25 L199.30,242.24 L198.89,242.23 L198.47,242.21 L198.06,242.18 L197.65,242.14 L197.24,242.08 L196.82,242.00 L196.41,241.87 L196.00,241.40 Z" fill="#9a9a9a" opacity="1.0"/>
<path d="M213.00,242.00 L213.40,241.76 L213.80,241.67 L214.20,241.60 L214.60,241.55 L215.00,241.51 L215.40,241.48 L215.80,241.45 L216.20,241.43 L216.60,241.42 L217.00,241.41 L217.40,241.40 L217.80,241.40 L218.20,241.40 L218.60,241.41 L219.00,241.42 L219.40,241.43 L219.80,241.45 L220.20,241.48 L220.60,241.51 L221.00,241.55 L221.40,241.60 L221.80,241.67 L222.20,241.76 L222.60,242.00 L222.60,242.00 L222.20,242.24 L221.80,242.33 L221.40,242.40 L221.00,242.45 L220.60,242.49 L220.20,242.52 L219.80,242.55 L219.40,242.57 L219.00,242.58 L218.60,242.59 L218.20,242.60 L217.80,242.60 L217.40,242.60 L217.00,242.59 L216.60,242.58 L216.20,242.57 L215.80,242.55 L215.40,242.52 L215.00,242.49 L214.60,242.45 L214.20,242.40 L213.80,242.33 L213.40,242.24 L213.00,242.00 Z" fill="#d0d0d0" opacity="1.0" stroke="#d0d0d0" stroke-opacity="0.3" stroke-width="1.1" stroke-linejoin="round"/>
<path d="M213.00,242.00 L213.40,241.76 L213.80,241.67 L214.20,241.60 L214.60,241.55 L215.00,241.51 L215.40,241.48 L215.80,241.45 L216.20,241.43 L216.60,241.42 L217.00,241.41 L217.40,241.40 L217.80,241.40 L218.20,241.40 L218.60,241.41 L219.00,241.42 L219.40,241.43 L219.80,241.45 L220.20,241.48 L220.60,241.51 L221.00,241.55 L221.40,241.60 L221.80,241.67 L222.20,241.76 L222.60,242.00 L222.60,242.00 L222.20,242.24 L221.80,242.33 L221.40,242.40 L221.00,242.45 L220.60,242.49 L220.20,242.52 L219.80,242.55 L219.40,242.57 L219.00,242.58 L218.60,242.59 L218.20,242.60 L217.80,242.60 L217.40,242.60 L217.00,242.59 L216.60,242.58 L216.20,242.57 L215.80,242.55 L215.40,242.52 L215.00,242.49 L214.60,242.45 L214.20,242.40 L213.80,242.33 L213.40,242.24 L213.00,242.00 Z" fill="#d0d0d0" opacity="1.0"/>
<path d="M233.20,242.50 L233.77,241.80 L234.35,241.65 L234.92,241.56 L235.50,241.50 L236.07,241.46 L236.65,241.43 L237.22,241.42 L237.80,241.41 L238.38,241.41 L238.95,241.41 L239.53,241.42 L240.10,241.42 L240.67,241.43 L241.25,241.44 L241.82,241.45 L242.40,241.46 L242.97,241.48 L243.55,241.50 L244.12,241.54 L244.70,241.58 L245.28,241.64 L245.85,241.72 L246.43,241.85 L247.00,242.40 L247.00,242.40 L246.43,242.96 L245.85,243.10 L245.28,243.19 L244.70,243.25 L244.12,243.31 L243.55,243.35 L242.97,243.38 L242.40,243.40 L241.82,243.43 L241.25,243.44 L240.67,243.46 L240.10,243.47 L239.53,243.49 L238.95,243.50 L238.38,243.51 L237.80,243.52 L237.22,243.52 L236.65,243.52 L236.07,243.50 L235.50,243.47 L234.92,243.42 L234.35,243.34 L233.77,243.19 L233.20,242.50 Z" fill="#121212" opacity="1.0" stroke="#121212" stroke-opacity="0.3" stroke-width="1.1" stroke-linejoin="round"/>
<path d="M233.20,242.50 L233.77,241.80 L234.35,241.65 L234.92,241.56 L235.50,241.50 L236.07,241.46 L236.65,241.43 L237.22,241.42 L237.80,241.41 L238.38,241.41 L238.95,241.41 L239.53,241.42 L240.10,241.42 L240.67,241.43 L241.25,241.44 L241.82,241.45 L242.40,241.46 L242.97,241.48 L243.55,241.50 L244.12,241.54 L244.70,241.58 L245.28,241.64 L245.85,241.72 L246.43,241.85 L247.00,242.40 L247.00,242.40 L246.43,242.96 L245.85,243.10 L245.28,243.19 L244.70,243.25 L244.12,243.31 L243.55,243.35 L242.97,243.38 L242.40,243.40 L241.82,243.43 L241.25,243.44 L240.67,243.46 L240.10,243.47 L239.53,243.49 L238.95,243.50 L238.38,243.51 L237.80,243.52 L237.22,243.52 L236.65,243.52 L236.07,243.50 L235.50,243.47 L234.92,243.42 L234.35,243.34 L233.77,243.19 L233.20,242.50 Z" fill="#121212" opacity="1.0"/>
<path d="M253.50,241.20 L254.09,239.56 L254.68,239.26 L255.26,239.09 L255.85,238.98 L256.44,238.91 L257.02,238.86 L257.61,238.83 L258.20,238.81 L258.79,238.81 L259.38,238.80 L259.96,238.80 L260.55,238.80 L261.14,238.80 L261.73,238.80 L262.31,238.81 L262.90,238.81 L263.49,238.83 L264.08,238.86 L264.66,238.91 L265.25,238.98 L265.84,239.08 L266.43,239.25 L267.01,239.53 L267.60,241.10 L267.60,241.10 L267.01,242.68 L266.43,242.97 L265.84,243.14 L265.25,243.26 L264.66,243.34 L264.08,243.39 L263.49,243.43 L262.90,243.45 L262.31,243.47 L261.73,243.48 L261.14,243.49 L260.55,243.50 L259.96,243.51 L259.38,243.52 L258.79,243.52 L258.20,243.52 L257.61,243.51 L257.02,243.49 L256.44,243.45 L255.85,243.39 L255.26,243.28 L254.68,243.12 L254.09,242.83 L253.50,241.20 Z" fill="#080808" opacity="1.0" stroke="#080808" stroke-opacity="0.3" stroke-width="1.1" stroke-linejoin="round"/>
<path d="M253.50,241.20 L254.09,239.56 L254.68,239.26 L255.26,239.09 L255.85,238.98 L256.44,238.91 L257.02,238.86 L257.61,238.83 L258.20,238.81 L258.79,238.81 L259.38,238.80 L259.96,238.80 L260.55,238.80 L261.14,238.80 L261.73,238.80 L262.31,238.81 L262.90,238.81 L263.49,238.83 L264.08,238.86 L264.66,238.91 L265.25,238.98 L265.84,239.08 L266.43,239.25 L267.01,239.53 L267.60,241.10 L267.60,241.10 L267.01,242.68 L266.43,242.97 L265.84,243.14 L265.25,243.26 L264.66,243.34 L264.08,243.39 L263.49,243.43 L262.90,243.45 L262.31,243.47 L261.73,243.48 L261.14,243.49 L260.55,243.50 L259.96,243.51 L259.38,243.52 L258.79,243.52 L258.20,243.52 L257.61,243.51 L257.02,243.49 L256.44,243.45 L255.85,243.39 L255.26,243.28 L254.68,243.12 L254.09,242.83 L253.50,241.20 Z" fill="#080808" opacity="1.0"/>
<path d="M63.80,274.10 L64.49,271.42 L65.18,271.13 L65.88,270.99 L66.57,270.91 L67.26,270.87 L67.95,270.85 L68.64,270.84 L69.33,270.84 L70.03,270.84 L70.72,270.84 L71.41,270.85 L72.10,270.85 L72.79,270.85 L73.48,270.86 L74.17,270.86 L74.87,270.87 L75.56,270.88 L76.25,270.90 L76.94,270.92 L77.63,270.97 L78.33,271.06 L79.02,271.21 L79.71,271.50 L80.40,274.10 L80.40,274.10 L79.71,276.70 L79.02,276.99 L78.33,277.14 L77.63,277.23 L76.94,277.28 L76.25,277.30 L75.56,277.32 L74.87,277.33 L74.17,277.34 L73.48,277.34 L72.79,277.35 L72.10,277.35 L71.41,277.35 L70.72,277.36 L70.03,277.36 L69.33,277.36 L68.64,277.36 L67.95,277.35 L67.26,277.33 L66.57,277.29 L65.88,277.21 L65.18,277.07 L64.49,276.78 L63.80,274.10 Z" fill="#0c0c0c" opacity="1.0" stroke="#0c0c0c" stroke-opacity="0.3" stroke-width="1.1" stroke-linejoin="round"/>
<path d="M63.80,274.10 L64.49,271.42 L65.18,271.13 L65.88,270.99 L66.57,270.91 L67.26,270.87 L67.95,270.85 L68.64,270.84 L69.33,270.84 L70.03,270.84 L70.72,270.84 L71.41,270.85 L72.10,270.85 L72.79,270.85 L73.48,270.86 L74.17,270.86 L74.87,270.87 L75.56,270.88 L76.25,270.90 L76.94,270.92 L77.63,270.97 L78.33,271.06 L79.02,271.21 L79.71,271.50 L80.40,274.10 L80.40,274.10 L79.71,276.70 L79.02,276.99 L78.33,277.14 L77.63,277.23 L76.94,277.28 L76.25,277.30 L75.56,277.32 L74.87,277.33 L74.17,277.34 L73.48,277.34 L72.79,277.35 L72.10,277.35 L71.41,277.35 L70.72,277.36 L70.03,277.36 L69.33,277.36 L68.64,277.36 L67.95,277.35 L67.26,277.33 L66.57,277.29 L65.88,277.21 L65.18,277.07 L64.49,276.78 L63.80,274.10 Z" fill="#0c0c0c" opacity="1.0"/>
<path d="M86.00,274.80 L86.53,274.02 L87.06,273.81 L87.59,273.67 L88.12,273.58 L88.65,273.51 L89.17,273.46 L89.70,273.43 L90.23,273.40 L90.76,273.39 L91.29,273.39 L91.82,273.39 L92.35,273.40 L92.88,273.41 L93.41,273.42 L93.94,273.44 L94.47,273.47 L95.00,273.50 L95.53,273.55 L96.05,273.61 L96.58,273.69 L97.11,273.79 L97.64,273.92 L98.17,274.12 L98.70,274.80 L98.70,274.80 L98.17,275.48 L97.64,275.68 L97.11,275.81 L96.58,275.91 L96.05,275.99 L95.53,276.05 L95.00,276.10 L94.47,276.13 L93.94,276.16 L93.41,276.18 L92.88,276.19 L92.35,276.20 L91.82,276.21 L91.29,276.21 L90.76,276.21 L90.23,276.20 L89.70,276.17 L89.17,276.14 L88.65,276.09 L88.12,276.02 L87.59,275.93 L87.06,275.79 L86.53,275.58 L86.00,274.80 Z" fill="#2e2e2e" opacity="1.0" stroke="#2e2e2e" stroke-opacity="0.3" stroke-width="1.1" stroke-linejoin="round"/>
<path d="M86.00,274.80 L86.53,274.02 L87.06,273.81 L87.59,273.67 L88.12,273.58 L88.65,273.51 L89.17,273.46 L89.70,273.43 L90.23,273.40 L90.76,273.39 L91.29,273.39 L91.82,273.39 L92.35,273.40 L92.88,273.41 L93.41,273.42 L93.94,273.44 L94.47,273.47 L95.00,273.50 L95.53,273.55 L96.05,273.61 L96.58,273.69 L97.11,273.79 L97.64,273.92 L98.17,274.12 L98.70,274.80 L98.70,274.80 L98.17,275.48 L97.64,275.68 L97.11,275.81 L96.58,275.91 L96.05,275.99 L95.53,276.05 L95.00,276.10 L94.47,276.13 L93.94,276.16 L93.41,276.18 L92.88,276.19 L92.35,276.20 L91.82,276.21 L91.29,276.21 L90.76,276.21 L90.23,276.20 L89.70,276.17 L89.17,276.14 L88.65,276.09 L88.12,276.02 L87.59,275.93 L87.06,275.79 L86.53,275.58 L86.00,274.80 Z" fill="#2e2e2e" opacity="1.0"/>
<path d="M105.20,274.20 L105.44,273.80 L105.68,273.66 L105.92,273.56 L106.17,273.48 L106.41,273.42 L106.65,273.38 L106.89,273.34 L107.13,273.32 L107.38,273.30 L107.62,273.30 L107.86,273.29 L108.10,273.30 L108.34,273.31 L108.58,273.33 L108.83,273.35 L109.07,273.38 L109.31,273.42 L109.55,273.46 L109.79,273.52 L110.03,273.58 L110.28,273.65 L110.52,273.75 L110.76,273.88 L111.00,274.20 L111.00,274.20 L110.76,274.52 L110.52,274.65 L110.28,274.75 L110.03,274.82 L109.79,274.88 L109.55,274.94 L109.31,274.98 L109.07,275.02 L108.83,275.05 L108.58,275.07 L108.34,275.09 L108.10,275.10 L107.86,275.11 L107.62,275.10 L107.38,275.10 L107.13,275.08 L106.89,275.06 L106.65,275.02 L106.41,274.98 L106.17,274.92 L105.92,274.84 L105.68,274.74 L105.44,274.60 L105.20,274.20 Z" fill="#c8c8c8" opacity="1.0" stroke="#c8c8c8" stroke-opacity="0.3" stroke-width="1.1" stroke-linejoin="round"/>
<path d="M105.20,274.20 L105.44,273.80 L105.68,273.66 L105.92,273.56 L106.17,273.48 L106.41,273.42 L106.65,273.38 L106.89,273.34 L107.13,273.32 L107.38,273.30 L107.62,273.30 L107.86,273.29 L108.10,273.30 L108.34,273.31 L108.58,273.33 L108.83,273.35 L109.07,273.38 L109.31,273.42 L109.55,273.46 L109.79,273.52 L110.03,273.58 L110.28,273.65 L110.52,273.75 L110.76,273.88 L111.00,274.20 L111.00,274.20 L110.76,274.52 L110.52,274.65 L110.28,274.75 L110.03,274.82 L109.79,274.88 L109.55,274.94 L109.31,274.98 L109.07,275.02 L108.83,275.05 L108.58,275.07 L108.34,275.09 L108.10,275.10 L107.86,275.11 L107.62,275.10 L107.38,275.10 L107.13,275.08 L106.89,275.06 L106.65,275.02 L106.41,274.98 L106.17,274.92 L105.92,274.84 L105.68,274.74 L105.44,274.60 L105.20,274.20 Z" fill="#c8c8c8" opacity="1.0"/>
<path d="M127.20,272.10 L127.74,270.31 L128.28,270.08 L128.81,269.96 L129.35,269.89 L129.89,269.85 L130.43,269.82 L130.96,269.81 L131.50,269.80 L132.04,269.80 L132.57,269.80 L133.11,269.80 L133.65,269.80 L134.19,269.80 L134.72,269.80 L135.26,269.80 L135.80,269.80 L136.34,269.81 L136.88,269.82 L137.41,269.85 L137.95,269.89 L138.49,269.96 L139.03,270.08 L139.56,270.31 L140.10,272.10 L140.10,272.10 L139.56,273.89 L139.03,274.12 L138.49,274.24 L137.95,274.31 L137.41,274.35 L136.88,274.38 L136.34,274.39 L135.80,274.40 L135.26,274.40 L134.72,274.40 L134.19,274.40 L133.65,274.40 L133.11,274.40 L132.57,274.40 L132.04,274.40 L131.50,274.40 L130.96,274.39 L130.43,274.38 L129.89,274.35 L129.35,274.31 L128.81,274.24 L128.28,274.12 L127.74,273.89 L127.20,272.10 Z" fill="#101010" opacity="1.0" stroke="#101010" stroke-opacity="0.3" stroke-width="1.1" stroke-linejoin="round"/>
<path d="M127.20,272.10 L127.74,270.31 L128.28,270.08 L128.81,269.96 L129.35,269.89 L129.89,269.85 L130.43,269.82 L130.96,269.81 L131.50,269.80 L132.04,269.80 L132.57,269.80 L133.11,269.80 L133.65,269.80 L134.19,269.80 L134.72,269.80 L135.26,269.80 L135.80,269.80 L136.34,269.81 L136.88,269.82 L137.41,269.85 L137.95,269.89 L138.49,269.96 L139.03,270.08 L139.56,270.31 L140.10,272.10 L140.10,272.10 L139.56,273.89 L139.03,274.12 L138.49,274.24 L137.95,274.31 L137.41,274.35 L136.88,274.38 L136.34,274.39 L135.80,274.40 L135.26,274.40 L134.72,274.40 L134.19,274.40 L133.65,274.40 L133.11,274.40 L132.57,274.40 L132.04,274.40 L131.50,274.40 L130.96,274.39 L130.43,274.38 L129.89,274.35 L129.35,274.31 L128.81,274.24 L128.28,274.12 L127.74,273.89 L127.20,272.10 Z" fill="#101010" opacity="1.0"/>
<path d="M127.50,275.60 L128.01,274.68 L128.53,274.48 L129.04,274.35 L129.55,274.27 L130.06,274.21 L130.57,274.17 L131.09,274.14 L131.60,274.12 L132.11,274.11 L132.62,274.10 L133.14,274.10 L133.65,274.10 L134.16,274.10 L134.68,274.10 L135.19,274.11 L135.70,274.12 L136.21,274.14 L136.73,274.17 L137.24,274.21 L137.75,274.27 L138.26,274.35 L138.78,274.48 L139.29,274.68 L139.80,275.60 L139.80,275.60 L139.29,276.52 L138.78,276.72 L138.26,276.85 L137.75,276.93 L137.24,276.99 L136.73,277.03 L136.21,277.06 L135.70,277.08 L135.19,277.09 L134.68,277.10 L134.16,277.10 L133.65,277.10 L133.14,277.10 L132.62,277.10 L132.11,277.09 L131.60,277.08 L131.09,277.06 L130.57,277.03 L130.06,276.99 L129.55,276.93 L129.04,276.85 L128.53,276.72 L128.01,276.52 L127.50,275.60 Z" fill="#bdbdbd" opacity="1.0" filter="url(#bl9)"/>
<path d="M144.40,272.30 L145.00,269.38 L145.60,269.05 L146.20,268.89 L146.80,268.80 L147.40,268.75 L148.00,268.72 L148.60,268.71 L149.20,268.70 L149.80,268.70 L150.40,268.70 L151.00,268.70 L151.60,268.70 L152.20,268.70 L152.80,268.70 L153.40,268.70 L154.00,268.70 L154.60,268.71 L155.20,268.72 L155.80,268.75 L156.40,268.80 L157.00,268.89 L157.60,269.05 L158.20,269.38 L158.80,272.30 L158.80,272.30 L158.20,275.22 L157.60,275.55 L157.00,275.71 L156.40,275.80 L155.80,275.85 L155.20,275.88 L154.60,275.89 L154.00,275.90 L153.40,275.90 L152.80,275.90 L152.20,275.90 L151.60,275.90 L151.00,275.90 L150.40,275.90 L149.80,275.90 L149.20,275.90 L148.60,275.89 L148.00,275.88 L147.40,275.85 L146.80,275.80 L146.20,275.71 L145.60,275.55 L145.00,275.22 L144.40,272.30 Z" fill="#080808" opacity="1.0" stroke="#080808" stroke-opacity="0.3" stroke-width="1.1" stroke-linejoin="round"/>
<path d="M144.40,272.30 L145.00,269.38 L145.60,269.05 L146.20,268.89 L146.80,268.80 L147.40,268.75 L148.00,268.72 L148.60,268.71 L149.20,268.70 L149.80,268.70 L150.40,268.70 L151.00,268.70 L151.60,268.70 L152.20,268.70 L152.80,268.70 L153.40,268.70 L154.00,268.70 L154.60,268.71 L155.20,268.72 L155.80,268.75 L156.40,268.80 L157.00,268.89 L157.60,269.05 L158.20,269.38 L158.80,272.30 L158.80,272.30 L158.20,275.22 L157.60,275.55 L157.00,275.71 L156.40,275.80 L155.80,275.85 L155.20,275.88 L154.60,275.89 L154.00,275.90 L153.40,275.90 L152.80,275.90 L152.20,275.90 L151.60,275.90 L151.00,275.90 L150.40,275.90 L149.80,275.90 L149.20,275.90 L148.60,275.89 L148.00,275.88 L147.40,275.85 L146.80,275.80 L146.20,275.71 L145.60,275.55 L145.00,275.22 L144.40,272.30 Z" fill="#080808" opacity="1.0"/>
<path d="M173.30,272.60 L173.87,271.89 L174.44,271.74 L175.01,271.67 L175.58,271.65 L176.15,271.65 L176.73,271.68 L177.30,271.72 L177.87,271.77 L178.44,271.83 L179.01,271.90 L179.58,271.97 L180.15,272.05 L180.72,272.13 L181.29,272.21 L181.86,272.30 L182.43,272.40 L183.00,272.50 L183.57,272.61 L184.15,272.73 L184.72,272.86 L185.29,273.01 L185.86,273.19 L186.43,273.41 L187.00,274.00 L187.00,274.00 L186.43,274.47 L185.86,274.58 L185.29,274.64 L184.72,274.67 L184.15,274.69 L183.57,274.69 L183.00,274.68 L182.43,274.67 L181.86,274.65 L181.29,274.62 L180.72,274.59 L180.15,274.55 L179.58,274.51 L179.01,274.47 L178.44,274.42 L177.87,274.37 L177.30,274.30 L176.73,274.22 L176.15,274.13 L175.58,274.02 L175.01,273.88 L174.44,273.69 L173.87,273.43 L173.30,272.60 Z" fill="#0e0e0e" opacity="1.0" stroke="#0e0e0e" stroke-opacity="0.3" stroke-width="1.1" stroke-linejoin="round"/>
<path d="M173.30,272.60 L173.87,271.89 L174.44,271.74 L175.01,271.67 L175.58,271.65 L176.15,271.65 L176.73,271.68 L177.30,271.72 L177.87,271.77 L178.44,271.83 L179.01,271.90 L179.58,271.97 L180.15,272.05 L180.72,272.13 L181.29,272.21 L181.86,272.30 L182.43,272.40 L183.00,272.50 L183.57,272.61 L184.15,272.73 L184.72,272.86 L185.29,273.01 L185.86,273.19 L186.43,273.41 L187.00,274.00 L187.00,274.00 L186.43,274.47 L185.86,274.58 L185.29,274.64 L184.72,274.67 L184.15,274.69 L183.57,274.69 L183.00,274.68 L182.43,274.67 L181.86,274.65 L181.29,274.62 L180.72,274.59 L180.15,274.55 L179.58,274.51 L179.01,274.47 L178.44,274.42 L177.87,274.37 L177.30,274.30 L176.73,274.22 L176.15,274.13 L175.58,274.02 L175.01,273.88 L174.44,273.69 L173.87,273.43 L173.30,272.60 Z" fill="#0e0e0e" opacity="1.0"/>
<path d="M192.90,273.90 L193.12,273.46 L193.35,273.30 L193.58,273.19 L193.80,273.10 L194.03,273.04 L194.25,272.99 L194.47,272.95 L194.70,272.93 L194.93,272.91 L195.15,272.90 L195.38,272.90 L195.60,272.90 L195.83,272.91 L196.05,272.93 L196.28,272.96 L196.50,272.99 L196.73,273.03 L196.95,273.08 L197.18,273.14 L197.40,273.20 L197.62,273.29 L197.85,273.39 L198.08,273.54 L198.30,273.90 L198.30,273.90 L198.08,274.26 L197.85,274.41 L197.62,274.51 L197.40,274.60 L197.18,274.66 L196.95,274.72 L196.73,274.77 L196.50,274.81 L196.28,274.84 L196.05,274.87 L195.83,274.89 L195.60,274.90 L195.38,274.90 L195.15,274.90 L194.93,274.89 L194.70,274.87 L194.47,274.85 L194.25,274.81 L194.03,274.76 L193.80,274.70 L193.58,274.61 L193.35,274.50 L193.12,274.34 L192.90,273.90 Z" fill="#3c3c3c" opacity="1.0" stroke="#3c3c3c" stroke-opacity="0.3" stroke-width="1.1" stroke-linejoin="round"/>
<path d="M192.90,273.90 L193.12,273.46 L193.35,273.30 L193.58,273.19 L193.80,273.10 L194.03,273.04 L194.25,272.99 L194.47,272.95 L194.70,272.93 L194.93,272.91 L195.15,272.90 L195.38,272.90 L195.60,272.90 L195.83,272.91 L196.05,272.93 L196.28,272.96 L196.50,272.99 L196.73,273.03 L196.95,273.08 L197.18,273.14 L197.40,273.20 L197.62,273.29 L197.85,273.39 L198.08,273.54 L198.30,273.90 L198.30,273.90 L198.08,274.26 L197.85,274.41 L197.62,274.51 L197.40,274.60 L197.18,274.66 L196.95,274.72 L196.73,274.77 L196.50,274.81 L196.28,274.84 L196.05,274.87 L195.83,274.89 L195.60,274.90 L195.38,274.90 L195.15,274.90 L194.93,274.89 L194.70,274.87 L194.47,274.85 L194.25,274.81 L194.03,274.76 L193.80,274.70 L193.58,274.61 L193.35,274.50 L193.12,274.34 L192.90,273.90 Z" fill="#3c3c3c" opacity="1.0"/>
<path d="M198.00,274.10 L198.32,273.83 L198.65,273.73 L198.97,273.67 L199.30,273.62 L199.62,273.59 L199.95,273.57 L200.28,273.55 L200.60,273.54 L200.93,273.53 L201.25,273.53 L201.58,273.54 L201.90,273.55 L202.22,273.56 L202.55,273.58 L202.88,273.61 L203.20,273.64 L203.53,273.67 L203.85,273.71 L204.18,273.75 L204.50,273.81 L204.83,273.87 L205.15,273.95 L205.48,274.05 L205.80,274.30 L205.80,274.30 L205.48,274.53 L205.15,274.62 L204.83,274.68 L204.50,274.73 L204.18,274.76 L203.85,274.79 L203.53,274.81 L203.20,274.83 L202.88,274.84 L202.55,274.85 L202.22,274.85 L201.90,274.85 L201.58,274.84 L201.25,274.83 L200.93,274.82 L200.60,274.80 L200.28,274.77 L199.95,274.73 L199.62,274.69 L199.30,274.64 L198.97,274.58 L198.65,274.50 L198.32,274.39 L198.00,274.10 Z" fill="#b8b8b8" opacity="1.0" stroke="#b8b8b8" stroke-opacity="0.3" stroke-width="1.1" stroke-linejoin="round"/>
<path d="M198.00,274.10 L198.32,273.83 L198.65,273.73 L198.97,273.67 L199.30,273.62 L199.62,273.59 L199.95,273.57 L200.28,273.55 L200.60,273.54 L200.93,273.53 L201.25,273.53 L201.58,273.54 L201.90,273.55 L202.22,273.56 L202.55,273.58 L202.88,273.61 L203.20,273.64 L203.53,273.67 L203.85,273.71 L204.18,273.75 L204.50,273.81 L204.83,273.87 L205.15,273.95 L205.48,274.05 L205.80,274.30 L205.80,274.30 L205.48,274.53 L205.15,274.62 L204.83,274.68 L204.50,274.73 L204.18,274.76 L203.85,274.79 L203.53,274.81 L203.20,274.83 L202.88,274.84 L202.55,274.85 L202.22,274.85 L201.90,274.85 L201.58,274.84 L201.25,274.83 L200.93,274.82 L200.60,274.80 L200.28,274.77 L199.95,274.73 L199.62,274.69 L199.30,274.64 L198.97,274.58 L198.65,274.50 L198.32,274.39 L198.00,274.10 Z" fill="#b8b8b8" opacity="1.0"/>
<path d="M213.00,274.80 L213.09,274.52 L213.18,274.41 L213.28,274.34 L213.37,274.28 L213.46,274.23 L213.55,274.19 L213.64,274.16 L213.73,274.14 L213.82,274.12 L213.92,274.11 L214.01,274.10 L214.10,274.10 L214.19,274.10 L214.28,274.11 L214.38,274.12 L214.47,274.14 L214.56,274.16 L214.65,274.19 L214.74,274.23 L214.83,274.28 L214.92,274.34 L215.02,274.41 L215.11,274.52 L215.20,274.80 L215.20,274.80 L215.11,275.08 L215.02,275.19 L214.92,275.26 L214.83,275.32 L214.74,275.37 L214.65,275.41 L214.56,275.44 L214.47,275.46 L214.38,275.48 L214.28,275.49 L214.19,275.50 L214.10,275.50 L214.01,275.50 L213.92,275.49 L213.82,275.48 L213.73,275.46 L213.64,275.44 L213.55,275.41 L213.46,275.37 L213.37,275.32 L213.28,275.26 L213.18,275.19 L213.09,275.08 L213.00,274.80 Z" fill="#c0c0c0" opacity="1.0" stroke="#c0c0c0" stroke-opacity="0.3" stroke-width="1.1" stroke-linejoin="round"/>
<path d="M213.00,274.80 L213.09,274.52 L213.18,274.41 L213.28,274.34 L213.37,274.28 L213.46,274.23 L213.55,274.19 L213.64,274.16 L213.73,274.14 L213.82,274.12 L213.92,274.11 L214.01,274.10 L214.10,274.10 L214.19,274.10 L214.28,274.11 L214.38,274.12 L214.47,274.14 L214.56,274.16 L214.65,274.19 L214.74,274.23 L214.83,274.28 L214.92,274.34 L215.02,274.41 L215.11,274.52 L215.20,274.80 L215.20,274.80 L215.11,275.08 L215.02,275.19 L214.92,275.26 L214.83,275.32 L214.74,275.37 L214.65,275.41 L214.56,275.44 L214.47,275.46 L214.38,275.48 L214.28,275.49 L214.19,275.50 L214.10,275.50 L214.01,275.50 L213.92,275.49 L213.82,275.48 L213.73,275.46 L213.64,275.44 L213.55,275.41 L213.46,275.37 L213.37,275.32 L213.28,275.26 L213.18,275.19 L213.09,275.08 L213.00,274.80 Z" fill="#c0c0c0" opacity="1.0"/>
<path d="M255.70,275.10 L256.15,274.51 L256.60,274.29 L257.05,274.14 L257.50,274.02 L257.95,273.94 L258.40,273.87 L258.85,273.82 L259.30,273.78 L259.75,273.76 L260.20,273.74 L260.65,273.74 L261.10,273.75 L261.55,273.77 L262.00,273.79 L262.45,273.83 L262.90,273.88 L263.35,273.94 L263.80,274.01 L264.25,274.09 L264.70,274.19 L265.15,274.31 L265.60,274.46 L266.05,274.67 L266.50,275.20 L266.50,275.20 L266.05,275.72 L265.60,275.92 L265.15,276.06 L264.70,276.18 L264.25,276.27 L263.80,276.34 L263.35,276.41 L262.90,276.46 L262.45,276.49 L262.00,276.52 L261.55,276.54 L261.10,276.55 L260.65,276.55 L260.20,276.54 L259.75,276.52 L259.30,276.48 L258.85,276.44 L258.40,276.38 L257.95,276.31 L257.50,276.21 L257.05,276.09 L256.60,275.93 L256.15,275.70 L255.70,275.10 Z" fill="#0b0b0b" opacity="1.0" stroke="#0b0b0b" stroke-opacity="0.3" stroke-width="1.1" stroke-linejoin="round"/>
<path d="M255.70,275.10 L256.15,274.51 L256.60,274.29 L257.05,274.14 L257.50,274.02 L257.95,273.94 L258.40,273.87 L258.85,273.82 L259.30,273.78 L259.75,273.76 L260.20,273.74 L260.65,273.74 L261.10,273.75 L261.55,273.77 L262.00,273.79 L262.45,273.83 L262.90,273.88 L263.35,273.94 L263.80,274.01 L264.25,274.09 L264.70,274.19 L265.15,274.31 L265.60,274.46 L266.05,274.67 L266.50,275.20 L266.50,275.20 L266.05,275.72 L265.60,275.92 L265.15,276.06 L264.70,276.18 L264.25,276.27 L263.80,276.34 L263.35,276.41 L262.90,276.46 L262.45,276.49 L262.00,276.52 L261.55,276.54 L261.10,276.55 L260.65,276.55 L260.20,276.54 L259.75,276.52 L259.30,276.48 L258.85,276.44 L258.40,276.38 L257.95,276.31 L257.50,276.21 L257.05,276.09 L256.60,275.93 L256.15,275.70 L255.70,275.10 Z" fill="#0b0b0b" opacity="1.0"/>
<path d="M265.50,275.20 L265.70,274.89 L265.90,274.77 L266.10,274.70 L266.30,274.64 L266.50,274.60 L266.70,274.57 L266.90,274.55 L267.10,274.54 L267.30,274.53 L267.50,274.53 L267.70,274.54 L267.90,274.55 L268.10,274.56 L268.30,274.58 L268.50,274.61 L268.70,274.63 L268.90,274.67 L269.10,274.70 L269.30,274.74 L269.50,274.79 L269.70,274.84 L269.90,274.91 L270.10,275.00 L270.30,275.20 L270.30,275.20 L270.10,275.40 L269.90,275.49 L269.70,275.56 L269.50,275.61 L269.30,275.66 L269.10,275.70 L268.90,275.73 L268.70,275.77 L268.50,275.79 L268.30,275.82 L268.10,275.84 L267.90,275.85 L267.70,275.86 L267.50,275.87 L267.30,275.87 L267.10,275.86 L266.90,275.85 L266.70,275.83 L266.50,275.80 L266.30,275.76 L266.10,275.70 L265.90,275.63 L265.70,275.51 L265.50,275.20 Z" fill="#bbbbbb" opacity="1.0" stroke="#bbbbbb" stroke-opacity="0.3" stroke-width="1.1" stroke-linejoin="round"/>
<path d="M265.50,275.20 L265.70,274.89 L265.90,274.77 L266.10,274.70 L266.30,274.64 L266.50,274.60 L266.70,274.57 L266.90,274.55 L267.10,274.54 L267.30,274.53 L267.50,274.53 L267.70,274.54 L267.90,274.55 L268.10,274.56 L268.30,274.58 L268.50,274.61 L268.70,274.63 L268.90,274.67 L269.10,274.70 L269.30,274.74 L269.50,274.79 L269.70,274.84 L269.90,274.91 L270.10,275.00 L270.30,275.20 L270.30,275.20 L270.10,275.40 L269.90,275.49 L269.70,275.56 L269.50,275.61 L269.30,275.66 L269.10,275.70 L268.90,275.73 L268.70,275.77 L268.50,275.79 L268.30,275.82 L268.10,275.84 L267.90,275.85 L267.70,275.86 L267.50,275.87 L267.30,275.87 L267.10,275.86 L266.90,275.85 L266.70,275.83 L266.50,275.80 L266.30,275.76 L266.10,275.70 L265.90,275.63 L265.70,275.51 L265.50,275.20 Z" fill="#bbbbbb" opacity="1.0"/>
<path d="M66.2,303.2 L66.0,296.0 C66.2,293.2 67.5,292.0 70.0,291.9 L79.5,292.0 C81.5,292.2 82.6,293.5 82.8,295.5 L83.0,303.2 Z" fill="#161616" filter="url(#bl6)"/>
<path d="M86.6,303.0 L86.6,295.5 C87.5,294.3 90,294.6 92,295.0 C95,294.5 98,294.8 100.4,295.6 L100.6,303.0 Z" fill="#a0a0a0" filter="url(#bl8)"/>
<ellipse cx="88.6" cy="299.5" rx="2.2" ry="3.6" fill="#404040" opacity="1.0" filter="url(#bl8)"/>
<ellipse cx="89.5" cy="301.5" rx="3.0" ry="1.5" fill="#2c2c2c" opacity="1.0" filter="url(#bl7)"/>
<ellipse cx="88.0" cy="295.8" rx="1.2" ry="1.0" fill="#555" opacity="1.0" filter="url(#bl6)"/>
<ellipse cx="94.5" cy="300.5" rx="2.0" ry="2.2" fill="#707070" opacity="1.0" filter="url(#bl8)"/>
<ellipse cx="96.5" cy="296.8" rx="1.6" ry="1.4" fill="#7a7a7a" opacity="1.0" filter="url(#bl7)"/>
<ellipse cx="93.0" cy="297.0" rx="1.2" ry="1.2" fill="#c8c8c8" opacity="1.0" filter="url(#bl6)"/>
<ellipse cx="98.5" cy="299.2" rx="1.5" ry="2.5" fill="#b8b8b8" opacity="1.0" filter="url(#bl8)"/>
<path d="M107.3,303.0 L107.5,296.0 C109,294.8 112,294.6 116,295.2 L118.5,296 L119.0,303.0 Z" fill="#c6c6c6" filter="url(#bl8)"/>
<ellipse cx="109.8" cy="298.2" rx="1.3" ry="1.3" fill="#707070" opacity="1.0" filter="url(#bl7)"/>
<ellipse cx="115.6" cy="302.3" rx="2.0" ry="1.0" fill="#2a2a2a" opacity="1.0" filter="url(#bl6)"/>
<ellipse cx="118.3" cy="298.8" rx="0.9" ry="1.0" fill="#777" opacity="1.0" filter="url(#bl6)"/>
<ellipse cx="112.5" cy="300.0" rx="1.8" ry="1.5" fill="#b0b0b0" opacity="1.0" filter="url(#bl7)"/>
<path d="M128.20,297.30 L128.75,294.21 L129.31,293.87 L129.86,293.70 L130.42,293.61 L130.97,293.55 L131.52,293.52 L132.08,293.51 L132.63,293.50 L133.19,293.50 L133.74,293.50 L134.30,293.50 L134.85,293.50 L135.40,293.50 L135.96,293.50 L136.51,293.50 L137.07,293.50 L137.62,293.51 L138.18,293.52 L138.73,293.55 L139.28,293.61 L139.84,293.70 L140.39,293.87 L140.95,294.21 L141.50,297.30 L141.50,297.30 L140.95,300.39 L140.39,300.73 L139.84,300.90 L139.28,300.99 L138.73,301.05 L138.18,301.08 L137.62,301.09 L137.07,301.10 L136.51,301.10 L135.96,301.10 L135.40,301.10 L134.85,301.10 L134.30,301.10 L133.74,301.10 L133.19,301.10 L132.63,301.10 L132.08,301.09 L131.52,301.08 L130.97,301.05 L130.42,300.99 L129.86,300.90 L129.31,300.73 L128.75,300.39 L128.20,297.30 Z" fill="#1d1d1d" opacity="1.0" stroke="#1d1d1d" stroke-opacity="0.3" stroke-width="1.1" stroke-linejoin="round"/>
<path d="M128.20,297.30 L128.75,294.21 L129.31,293.87 L129.86,293.70 L130.42,293.61 L130.97,293.55 L131.52,293.52 L132.08,293.51 L132.63,293.50 L133.19,293.50 L133.74,293.50 L134.30,293.50 L134.85,293.50 L135.40,293.50 L135.96,293.50 L136.51,293.50 L137.07,293.50 L137.62,293.51 L138.18,293.52 L138.73,293.55 L139.28,293.61 L139.84,293.70 L140.39,293.87 L140.95,294.21 L141.50,297.30 L141.50,297.30 L140.95,300.39 L140.39,300.73 L139.84,300.90 L139.28,300.99 L138.73,301.05 L138.18,301.08 L137.62,301.09 L137.07,301.10 L136.51,301.10 L135.96,301.10 L135.40,301.10 L134.85,301.10 L134.30,301.10 L133.74,301.10 L133.19,301.10 L132.63,301.10 L132.08,301.09 L131.52,301.08 L130.97,301.05 L130.42,300.99 L129.86,300.90 L129.31,300.73 L128.75,300.39 L128.20,297.30 Z" fill="#1d1d1d" opacity="1.0"/>
<path d="M145.50,297.00 L146.03,294.16 L146.56,293.84 L147.09,293.68 L147.62,293.60 L148.15,293.55 L148.68,293.52 L149.20,293.51 L149.73,293.50 L150.26,293.50 L150.79,293.50 L151.32,293.50 L151.85,293.50 L152.38,293.50 L152.91,293.50 L153.44,293.50 L153.97,293.50 L154.50,293.51 L155.02,293.52 L155.55,293.55 L156.08,293.60 L156.61,293.68 L157.14,293.84 L157.67,294.16 L158.20,297.00 L158.20,297.00 L157.67,299.84 L157.14,300.16 L156.61,300.32 L156.08,300.40 L155.55,300.45 L155.02,300.48 L154.50,300.49 L153.97,300.50 L153.44,300.50 L152.91,300.50 L152.38,300.50 L151.85,300.50 L151.32,300.50 L150.79,300.50 L150.26,300.50 L149.73,300.50 L149.20,300.49 L148.68,300.48 L148.15,300.45 L147.62,300.40 L147.09,300.32 L146.56,300.16 L146.03,299.84 L145.50,297.00 Z" fill="#1a1a1a" opacity="1.0" stroke="#1a1a1a" stroke-opacity="0.3" stroke-width="1.1" stroke-linejoin="round"/>
<path d="M145.50,297.00 L146.03,294.16 L146.56,293.84 L147.09,293.68 L147.62,293.60 L148.15,293.55 L148.68,293.52 L149.20,293.51 L149.73,293.50 L150.26,293.50 L150.79,293.50 L151.32,293.50 L151.85,293.50 L152.38,293.50 L152.91,293.50 L153.44,293.50 L153.97,293.50 L154.50,293.51 L155.02,293.52 L155.55,293.55 L156.08,293.60 L156.61,293.68 L157.14,293.84 L157.67,294.16 L158.20,297.00 L158.20,297.00 L157.67,299.84 L157.14,300.16 L156.61,300.32 L156.08,300.40 L155.55,300.45 L155.02,300.48 L154.50,300.49 L153.97,300.50 L153.44,300.50 L152.91,300.50 L152.38,300.50 L151.85,300.50 L151.32,300.50 L150.79,300.50 L150.26,300.50 L149.73,300.50 L149.20,300.49 L148.68,300.48 L148.15,300.45 L147.62,300.40 L147.09,300.32 L146.56,300.16 L146.03,299.84 L145.50,297.00 Z" fill="#1a1a1a" opacity="1.0"/>
<path d="M173.60,296.30 L173.72,295.94 L173.85,295.80 L173.97,295.70 L174.10,295.63 L174.22,295.57 L174.35,295.52 L174.47,295.48 L174.60,295.45 L174.72,295.43 L174.85,295.41 L174.97,295.40 L175.10,295.40 L175.22,295.40 L175.35,295.41 L175.47,295.43 L175.60,295.45 L175.72,295.48 L175.85,295.52 L175.97,295.57 L176.10,295.63 L176.22,295.70 L176.35,295.80 L176.47,295.94 L176.60,296.30 L176.60,296.30 L176.47,296.66 L176.35,296.80 L176.22,296.90 L176.10,296.97 L175.97,297.03 L175.85,297.08 L175.72,297.12 L175.60,297.15 L175.47,297.17 L175.35,297.19 L175.22,297.20 L175.10,297.20 L174.97,297.20 L174.85,297.19 L174.72,297.17 L174.60,297.15 L174.47,297.12 L174.35,297.08 L174.22,297.03 L174.10,296.97 L173.97,296.90 L173.85,296.80 L173.72,296.66 L173.60,296.30 Z" fill="#111" opacity="1.0" stroke="#111" stroke-opacity="0.3" stroke-width="1.1" stroke-linejoin="round"/>
<path d="M173.60,296.30 L173.72,295.94 L173.85,295.80 L173.97,295.70 L174.10,295.63 L174.22,295.57 L174.35,295.52 L174.47,295.48 L174.60,295.45 L174.72,295.43 L174.85,295.41 L174.97,295.40 L175.10,295.40 L175.22,295.40 L175.35,295.41 L175.47,295.43 L175.60,295.45 L175.72,295.48 L175.85,295.52 L175.97,295.57 L176.10,295.63 L176.22,295.70 L176.35,295.80 L176.47,295.94 L176.60,296.30 L176.60,296.30 L176.47,296.66 L176.35,296.80 L176.22,296.90 L176.10,296.97 L175.97,297.03 L175.85,297.08 L175.72,297.12 L175.60,297.15 L175.47,297.17 L175.35,297.19 L175.22,297.20 L175.10,297.20 L174.97,297.20 L174.85,297.19 L174.72,297.17 L174.60,297.15 L174.47,297.12 L174.35,297.08 L174.22,297.03 L174.10,296.97 L173.97,296.90 L173.85,296.80 L173.72,296.66 L173.60,296.30 Z" fill="#111" opacity="1.0"/>
<path d="M180.40,296.50 L180.65,296.23 L180.89,296.16 L181.14,296.12 L181.38,296.10 L181.63,296.09 L181.88,296.09 L182.12,296.10 L182.37,296.12 L182.61,296.14 L182.86,296.17 L183.10,296.21 L183.35,296.25 L183.60,296.30 L183.84,296.35 L184.09,296.42 L184.33,296.49 L184.58,296.56 L184.83,296.65 L185.07,296.75 L185.32,296.86 L185.56,296.99 L185.81,297.15 L186.05,297.35 L186.30,297.80 L186.30,297.80 L186.05,298.14 L185.81,298.24 L185.56,298.28 L185.32,298.30 L185.07,298.31 L184.83,298.30 L184.58,298.28 L184.33,298.25 L184.09,298.21 L183.84,298.16 L183.60,298.11 L183.35,298.05 L183.10,297.98 L182.86,297.91 L182.61,297.83 L182.37,297.75 L182.12,297.66 L181.88,297.56 L181.63,297.45 L181.38,297.34 L181.14,297.21 L180.89,297.06 L180.65,296.88 L180.40,296.50 Z" fill="#111" opacity="1.0" stroke="#111" stroke-opacity="0.3" stroke-width="1.1" stroke-linejoin="round"/>
<path d="M180.40,296.50 L180.65,296.23 L180.89,296.16 L181.14,296.12 L181.38,296.10 L181.63,296.09 L181.88,296.09 L182.12,296.10 L182.37,296.12 L182.61,296.14 L182.86,296.17 L183.10,296.21 L183.35,296.25 L183.60,296.30 L183.84,296.35 L184.09,296.42 L184.33,296.49 L184.58,296.56 L184.83,296.65 L185.07,296.75 L185.32,296.86 L185.56,296.99 L185.81,297.15 L186.05,297.35 L186.30,297.80 L186.30,297.80 L186.05,298.14 L185.81,298.24 L185.56,298.28 L185.32,298.30 L185.07,298.31 L184.83,298.30 L184.58,298.28 L184.33,298.25 L184.09,298.21 L183.84,298.16 L183.60,298.11 L183.35,298.05 L183.10,297.98 L182.86,297.91 L182.61,297.83 L182.37,297.75 L182.12,297.66 L181.88,297.56 L181.63,297.45 L181.38,297.34 L181.14,297.21 L180.89,297.06 L180.65,296.88 L180.40,296.50 Z" fill="#111" opacity="1.0"/>
<path d="M255.70,296.10 L256.10,295.50 L256.49,295.28 L256.89,295.12 L257.28,294.99 L257.68,294.90 L258.07,294.82 L258.47,294.76 L258.87,294.72 L259.26,294.68 L259.66,294.66 L260.05,294.65 L260.45,294.65 L260.85,294.66 L261.24,294.68 L261.64,294.71 L262.03,294.75 L262.43,294.80 L262.82,294.87 L263.22,294.95 L263.62,295.04 L264.01,295.17 L264.41,295.32 L264.80,295.54 L265.20,296.10 L265.20,296.10 L264.80,296.66 L264.41,296.88 L264.01,297.03 L263.62,297.16 L263.22,297.25 L262.82,297.33 L262.43,297.40 L262.03,297.45 L261.64,297.49 L261.24,297.52 L260.85,297.54 L260.45,297.55 L260.05,297.55 L259.66,297.54 L259.26,297.52 L258.87,297.48 L258.47,297.44 L258.07,297.38 L257.68,297.30 L257.28,297.21 L256.89,297.08 L256.49,296.92 L256.10,296.70 L255.70,296.10 Z" fill="#0a0a0a" opacity="1.0" stroke="#0a0a0a" stroke-opacity="0.3" stroke-width="1.1" stroke-linejoin="round"/>
<path d="M255.70,296.10 L256.10,295.50 L256.49,295.28 L256.89,295.12 L257.28,294.99 L257.68,294.90 L258.07,294.82 L258.47,294.76 L258.87,294.72 L259.26,294.68 L259.66,294.66 L260.05,294.65 L260.45,294.65 L260.85,294.66 L261.24,294.68 L261.64,294.71 L262.03,294.75 L262.43,294.80 L262.82,294.87 L263.22,294.95 L263.62,295.04 L264.01,295.17 L264.41,295.32 L264.80,295.54 L265.20,296.10 L265.20,296.10 L264.80,296.66 L264.41,296.88 L264.01,297.03 L263.62,297.16 L263.22,297.25 L262.82,297.33 L262.43,297.40 L262.03,297.45 L261.64,297.49 L261.24,297.52 L260.85,297.54 L260.45,297.55 L260.05,297.55 L259.66,297.54 L259.26,297.52 L258.87,297.48 L258.47,297.44 L258.07,297.38 L257.68,297.30 L257.28,297.21 L256.89,297.08 L256.49,296.92 L256.10,296.70 L255.70,296.10 Z" fill="#0a0a0a" opacity="1.0"/>
<path d="M264.50,296.10 L264.69,295.79 L264.88,295.67 L265.07,295.60 L265.27,295.54 L265.46,295.50 L265.65,295.47 L265.84,295.45 L266.03,295.44 L266.23,295.43 L266.42,295.43 L266.61,295.44 L266.80,295.45 L266.99,295.46 L267.18,295.48 L267.38,295.51 L267.57,295.53 L267.76,295.57 L267.95,295.60 L268.14,295.64 L268.33,295.69 L268.53,295.74 L268.72,295.81 L268.91,295.90 L269.10,296.10 L269.10,296.10 L268.91,296.30 L268.72,296.39 L268.53,296.46 L268.33,296.51 L268.14,296.56 L267.95,296.60 L267.76,296.63 L267.57,296.67 L267.38,296.69 L267.18,296.72 L266.99,296.74 L266.80,296.75 L266.61,296.76 L266.42,296.77 L266.23,296.77 L266.03,296.76 L265.84,296.75 L265.65,296.73 L265.46,296.70 L265.27,296.66 L265.07,296.60 L264.88,296.53 L264.69,296.41 L264.50,296.10 Z" fill="#bdbdbd" opacity="1.0" stroke="#bdbdbd" stroke-opacity="0.3" stroke-width="1.1" stroke-linejoin="round"/>
<path d="M264.50,296.10 L264.69,295.79 L264.88,295.67 L265.07,295.60 L265.27,295.54 L265.46,295.50 L265.65,295.47 L265.84,295.45 L266.03,295.44 L266.23,295.43 L266.42,295.43 L266.61,295.44 L266.80,295.45 L266.99,295.46 L267.18,295.48 L267.38,295.51 L267.57,295.53 L267.76,295.57 L267.95,295.60 L268.14,295.64 L268.33,295.69 L268.53,295.74 L268.72,295.81 L268.91,295.90 L269.10,296.10 L269.10,296.10 L268.91,296.30 L268.72,296.39 L268.53,296.46 L268.33,296.51 L268.14,296.56 L267.95,296.60 L267.76,296.63 L267.57,296.67 L267.38,296.69 L267.18,296.72 L266.99,296.74 L266.80,296.75 L266.61,296.76 L266.42,296.77 L266.23,296.77 L266.03,296.76 L265.84,296.75 L265.65,296.73 L265.46,296.70 L265.27,296.66 L265.07,296.60 L264.88,296.53 L264.69,296.41 L264.50,296.10 Z" fill="#bdbdbd" opacity="1.0"/>
<path d="M61.00,321.60 L61.73,319.62 L62.46,319.27 L63.19,319.09 L63.92,319.00 L64.65,318.95 L65.38,318.93 L66.10,318.94 L66.83,318.96 L67.56,318.99 L68.29,319.03 L69.02,319.06 L69.75,319.10 L70.48,319.13 L71.21,319.16 L71.94,319.19 L72.67,319.23 L73.40,319.27 L74.12,319.33 L74.85,319.40 L75.58,319.51 L76.31,319.65 L77.04,319.86 L77.77,320.22 L78.50,322.00 L78.50,322.00 L77.77,323.84 L77.04,324.25 L76.31,324.51 L75.58,324.69 L74.85,324.83 L74.12,324.92 L73.40,324.99 L72.67,325.04 L71.94,325.07 L71.21,325.09 L70.48,325.10 L69.75,325.10 L69.02,325.10 L68.29,325.09 L67.56,325.07 L66.83,325.04 L66.10,324.99 L65.38,324.92 L64.65,324.81 L63.92,324.67 L63.19,324.47 L62.46,324.18 L61.73,323.71 L61.00,321.60 Z" fill="#151515" opacity="1.0" stroke="#151515" stroke-opacity="0.3" stroke-width="1.1" stroke-linejoin="round"/>
<path d="M61.00,321.60 L61.73,319.62 L62.46,319.27 L63.19,319.09 L63.92,319.00 L64.65,318.95 L65.38,318.93 L66.10,318.94 L66.83,318.96 L67.56,318.99 L68.29,319.03 L69.02,319.06 L69.75,319.10 L70.48,319.13 L71.21,319.16 L71.94,319.19 L72.67,319.23 L73.40,319.27 L74.12,319.33 L74.85,319.40 L75.58,319.51 L76.31,319.65 L77.04,319.86 L77.77,320.22 L78.50,322.00 L78.50,322.00 L77.77,323.84 L77.04,324.25 L76.31,324.51 L75.58,324.69 L74.85,324.83 L74.12,324.92 L73.40,324.99 L72.67,325.04 L71.94,325.07 L71.21,325.09 L70.48,325.10 L69.75,325.10 L69.02,325.10 L68.29,325.09 L67.56,325.07 L66.83,325.04 L66.10,324.99 L65.38,324.92 L64.65,324.81 L63.92,324.67 L63.19,324.47 L62.46,324.18 L61.73,323.71 L61.00,321.60 Z" fill="#151515" opacity="1.0"/>
<path d="M80.70,322.50 L81.41,320.51 L82.12,320.15 L82.84,319.96 L83.55,319.85 L84.26,319.79 L84.97,319.76 L85.69,319.75 L86.40,319.76 L87.11,319.78 L87.83,319.80 L88.54,319.83 L89.25,319.85 L89.96,319.87 L90.67,319.89 L91.39,319.90 L92.10,319.93 L92.81,319.96 L93.53,320.00 L94.24,320.07 L94.95,320.16 L95.66,320.29 L96.38,320.49 L97.09,320.83 L97.80,322.60 L97.80,322.60 L97.09,324.45 L96.38,324.88 L95.66,325.15 L94.95,325.34 L94.24,325.49 L93.53,325.60 L92.81,325.68 L92.10,325.74 L91.39,325.78 L90.67,325.81 L89.96,325.84 L89.25,325.85 L88.54,325.86 L87.83,325.86 L87.11,325.86 L86.40,325.84 L85.69,325.80 L84.97,325.74 L84.26,325.65 L83.55,325.52 L82.84,325.33 L82.12,325.05 L81.41,324.60 L80.70,322.50 Z" fill="#151515" opacity="1.0" stroke="#151515" stroke-opacity="0.3" stroke-width="1.1" stroke-linejoin="round"/>
<path d="M80.70,322.50 L81.41,320.51 L82.12,320.15 L82.84,319.96 L83.55,319.85 L84.26,319.79 L84.97,319.76 L85.69,319.75 L86.40,319.76 L87.11,319.78 L87.83,319.80 L88.54,319.83 L89.25,319.85 L89.96,319.87 L90.67,319.89 L91.39,319.90 L92.10,319.93 L92.81,319.96 L93.53,320.00 L94.24,320.07 L94.95,320.16 L95.66,320.29 L96.38,320.49 L97.09,320.83 L97.80,322.60 L97.80,322.60 L97.09,324.45 L96.38,324.88 L95.66,325.15 L94.95,325.34 L94.24,325.49 L93.53,325.60 L92.81,325.68 L92.10,325.74 L91.39,325.78 L90.67,325.81 L89.96,325.84 L89.25,325.85 L88.54,325.86 L87.83,325.86 L87.11,325.86 L86.40,325.84 L85.69,325.80 L84.97,325.74 L84.26,325.65 L83.55,325.52 L82.84,325.33 L82.12,325.05 L81.41,324.60 L80.70,322.50 Z" fill="#151515" opacity="1.0"/>
<path d="M101.40,322.60 L102.13,320.79 L102.87,320.45 L103.60,320.27 L104.33,320.16 L105.07,320.09 L105.80,320.05 L106.53,320.03 L107.27,320.03 L108.00,320.03 L108.73,320.04 L109.47,320.04 L110.20,320.05 L110.93,320.05 L111.67,320.05 L112.40,320.05 L113.13,320.06 L113.87,320.07 L114.60,320.10 L115.33,320.14 L116.07,320.22 L116.80,320.33 L117.53,320.52 L118.27,320.85 L119.00,322.60 L119.00,322.60 L118.27,324.45 L117.53,324.87 L116.80,325.13 L116.07,325.32 L115.33,325.45 L114.60,325.55 L113.87,325.62 L113.13,325.67 L112.40,325.71 L111.67,325.73 L110.93,325.74 L110.20,325.75 L109.47,325.75 L108.73,325.75 L108.00,325.73 L107.27,325.71 L106.53,325.66 L105.80,325.60 L105.07,325.51 L104.33,325.38 L103.60,325.19 L102.87,324.93 L102.13,324.51 L101.40,322.60 Z" fill="#151515" opacity="1.0" stroke="#151515" stroke-opacity="0.3" stroke-width="1.1" stroke-linejoin="round"/>
<path d="M101.40,322.60 L102.13,320.79 L102.87,320.45 L103.60,320.27 L104.33,320.16 L105.07,320.09 L105.80,320.05 L106.53,320.03 L107.27,320.03 L108.00,320.03 L108.73,320.04 L109.47,320.04 L110.20,320.05 L110.93,320.05 L111.67,320.05 L112.40,320.05 L113.13,320.06 L113.87,320.07 L114.60,320.10 L115.33,320.14 L116.07,320.22 L116.80,320.33 L117.53,320.52 L118.27,320.85 L119.00,322.60 L119.00,322.60 L118.27,324.45 L117.53,324.87 L116.80,325.13 L116.07,325.32 L115.33,325.45 L114.60,325.55 L113.87,325.62 L113.13,325.67 L112.40,325.71 L111.67,325.73 L110.93,325.74 L110.20,325.75 L109.47,325.75 L108.73,325.75 L108.00,325.73 L107.27,325.71 L106.53,325.66 L105.80,325.60 L105.07,325.51 L104.33,325.38 L103.60,325.19 L102.87,324.93 L102.13,324.51 L101.40,322.60 Z" fill="#151515" opacity="1.0"/>
<path d="M122.30,322.60 L123.01,320.66 L123.72,320.29 L124.44,320.10 L125.15,319.97 L125.86,319.90 L126.58,319.86 L127.29,319.84 L128.00,319.83 L128.71,319.83 L129.43,319.84 L130.14,319.84 L130.85,319.85 L131.56,319.85 L132.28,319.85 L132.99,319.85 L133.70,319.86 L134.41,319.88 L135.12,319.90 L135.84,319.95 L136.55,320.03 L137.26,320.15 L137.97,320.34 L138.69,320.68 L139.40,322.50 L139.40,322.50 L138.69,324.42 L137.97,324.86 L137.26,325.14 L136.55,325.34 L135.84,325.49 L135.12,325.60 L134.41,325.68 L133.70,325.74 L132.99,325.78 L132.28,325.81 L131.56,325.84 L130.85,325.85 L130.14,325.86 L129.43,325.86 L128.71,325.86 L128.00,325.84 L127.29,325.80 L126.58,325.74 L125.86,325.65 L125.15,325.53 L124.44,325.34 L123.72,325.07 L123.01,324.63 L122.30,322.60 Z" fill="#151515" opacity="1.0" stroke="#151515" stroke-opacity="0.3" stroke-width="1.1" stroke-linejoin="round"/>
<path d="M122.30,322.60 L123.01,320.66 L123.72,320.29 L124.44,320.10 L125.15,319.97 L125.86,319.90 L126.58,319.86 L127.29,319.84 L128.00,319.83 L128.71,319.83 L129.43,319.84 L130.14,319.84 L130.85,319.85 L131.56,319.85 L132.28,319.85 L132.99,319.85 L133.70,319.86 L134.41,319.88 L135.12,319.90 L135.84,319.95 L136.55,320.03 L137.26,320.15 L137.97,320.34 L138.69,320.68 L139.40,322.50 L139.40,322.50 L138.69,324.42 L137.97,324.86 L137.26,325.14 L136.55,325.34 L135.84,325.49 L135.12,325.60 L134.41,325.68 L133.70,325.74 L132.99,325.78 L132.28,325.81 L131.56,325.84 L130.85,325.85 L130.14,325.86 L129.43,325.86 L128.71,325.86 L128.00,325.84 L127.29,325.80 L126.58,325.74 L125.86,325.65 L125.15,325.53 L124.44,325.34 L123.72,325.07 L123.01,324.63 L122.30,322.60 Z" fill="#151515" opacity="1.0"/>
<path d="M141.50,323.00 L142.23,321.22 L142.97,320.86 L143.70,320.64 L144.43,320.49 L145.17,320.39 L145.90,320.30 L146.63,320.24 L147.37,320.18 L148.10,320.14 L148.83,320.09 L149.57,320.05 L150.30,320.00 L151.03,319.95 L151.77,319.89 L152.50,319.84 L153.23,319.78 L153.97,319.74 L154.70,319.71 L155.43,319.70 L156.17,319.72 L156.90,319.79 L157.63,319.94 L158.37,320.25 L159.10,322.20 L159.10,322.20 L158.37,324.34 L157.63,324.84 L156.90,325.16 L156.17,325.39 L155.43,325.56 L154.70,325.69 L153.97,325.79 L153.23,325.86 L152.50,325.91 L151.77,325.95 L151.03,325.98 L150.30,326.00 L149.57,326.01 L148.83,326.02 L148.10,326.01 L147.37,325.99 L146.63,325.96 L145.90,325.90 L145.17,325.81 L144.43,325.68 L143.70,325.51 L142.97,325.25 L142.23,324.84 L141.50,323.00 Z" fill="#151515" opacity="1.0" stroke="#151515" stroke-opacity="0.3" stroke-width="1.1" stroke-linejoin="round"/>
<path d="M141.50,323.00 L142.23,321.22 L142.97,320.86 L143.70,320.64 L144.43,320.49 L145.17,320.39 L145.90,320.30 L146.63,320.24 L147.37,320.18 L148.10,320.14 L148.83,320.09 L149.57,320.05 L150.30,320.00 L151.03,319.95 L151.77,319.89 L152.50,319.84 L153.23,319.78 L153.97,319.74 L154.70,319.71 L155.43,319.70 L156.17,319.72 L156.90,319.79 L157.63,319.94 L158.37,320.25 L159.10,322.20 L159.10,322.20 L158.37,324.34 L157.63,324.84 L156.90,325.16 L156.17,325.39 L155.43,325.56 L154.70,325.69 L153.97,325.79 L153.23,325.86 L152.50,325.91 L151.77,325.95 L151.03,325.98 L150.30,326.00 L149.57,326.01 L148.83,326.02 L148.10,326.01 L147.37,325.99 L146.63,325.96 L145.90,325.90 L145.17,325.81 L144.43,325.68 L143.70,325.51 L142.97,325.25 L142.23,324.84 L141.50,323.00 Z" fill="#151515" opacity="1.0"/>
<path d="M171.00,320.60 L171.77,318.71 L172.53,318.39 L173.30,318.26 L174.07,318.21 L174.83,318.22 L175.60,318.26 L176.37,318.32 L177.13,318.40 L177.90,318.50 L178.67,318.60 L179.43,318.70 L180.20,318.80 L180.97,318.90 L181.73,319.00 L182.50,319.09 L183.27,319.20 L184.03,319.31 L184.80,319.43 L185.57,319.57 L186.33,319.73 L187.10,319.92 L187.87,320.17 L188.63,320.52 L189.40,321.90 L189.40,321.90 L188.63,323.27 L187.87,323.60 L187.10,323.82 L186.33,323.97 L185.57,324.08 L184.80,324.17 L184.03,324.23 L183.27,324.27 L182.50,324.29 L181.73,324.30 L180.97,324.31 L180.20,324.30 L179.43,324.29 L178.67,324.27 L177.90,324.24 L177.13,324.20 L176.37,324.13 L175.60,324.04 L174.83,323.92 L174.07,323.76 L173.30,323.53 L172.53,323.21 L171.77,322.70 L171.00,320.60 Z" fill="#151515" opacity="1.0" stroke="#151515" stroke-opacity="0.3" stroke-width="1.1" stroke-linejoin="round"/>
<path d="M171.00,320.60 L171.77,318.71 L172.53,318.39 L173.30,318.26 L174.07,318.21 L174.83,318.22 L175.60,318.26 L176.37,318.32 L177.13,318.40 L177.90,318.50 L178.67,318.60 L179.43,318.70 L180.20,318.80 L180.97,318.90 L181.73,319.00 L182.50,319.09 L183.27,319.20 L184.03,319.31 L184.80,319.43 L185.57,319.57 L186.33,319.73 L187.10,319.92 L187.87,320.17 L188.63,320.52 L189.40,321.90 L189.40,321.90 L188.63,323.27 L187.87,323.60 L187.10,323.82 L186.33,323.97 L185.57,324.08 L184.80,324.17 L184.03,324.23 L183.27,324.27 L182.50,324.29 L181.73,324.30 L180.97,324.31 L180.20,324.30 L179.43,324.29 L178.67,324.27 L177.90,324.24 L177.13,324.20 L176.37,324.13 L175.60,324.04 L174.83,323.92 L174.07,323.76 L173.30,323.53 L172.53,323.21 L171.77,322.70 L171.00,320.60 Z" fill="#151515" opacity="1.0"/>
<path d="M190.80,322.00 L191.60,320.17 L192.39,319.87 L193.19,319.72 L193.98,319.66 L194.78,319.64 L195.58,319.65 L196.37,319.68 L197.17,319.73 L197.96,319.78 L198.76,319.84 L199.55,319.89 L200.35,319.95 L201.15,320.00 L201.94,320.05 L202.74,320.10 L203.53,320.16 L204.33,320.22 L205.12,320.29 L205.92,320.38 L206.72,320.50 L207.51,320.64 L208.31,320.86 L209.10,321.19 L209.90,322.80 L209.90,322.80 L209.10,324.43 L208.31,324.79 L207.51,325.02 L206.72,325.17 L205.92,325.28 L205.12,325.36 L204.33,325.41 L203.53,325.44 L202.74,325.46 L201.94,325.46 L201.15,325.46 L200.35,325.45 L199.55,325.44 L198.76,325.41 L197.96,325.38 L197.17,325.34 L196.37,325.28 L195.58,325.20 L194.78,325.09 L193.98,324.94 L193.19,324.74 L192.39,324.45 L191.60,324.00 L190.80,322.00 Z" fill="#151515" opacity="1.0" stroke="#151515" stroke-opacity="0.3" stroke-width="1.1" stroke-linejoin="round"/>
<path d="M190.80,322.00 L191.60,320.17 L192.39,319.87 L193.19,319.72 L193.98,319.66 L194.78,319.64 L195.58,319.65 L196.37,319.68 L197.17,319.73 L197.96,319.78 L198.76,319.84 L199.55,319.89 L200.35,319.95 L201.15,320.00 L201.94,320.05 L202.74,320.10 L203.53,320.16 L204.33,320.22 L205.12,320.29 L205.92,320.38 L206.72,320.50 L207.51,320.64 L208.31,320.86 L209.10,321.19 L209.90,322.80 L209.90,322.80 L209.10,324.43 L208.31,324.79 L207.51,325.02 L206.72,325.17 L205.92,325.28 L205.12,325.36 L204.33,325.41 L203.53,325.44 L202.74,325.46 L201.94,325.46 L201.15,325.46 L200.35,325.45 L199.55,325.44 L198.76,325.41 L197.96,325.38 L197.17,325.34 L196.37,325.28 L195.58,325.20 L194.78,325.09 L193.98,324.94 L193.19,324.74 L192.39,324.45 L191.60,324.00 L190.80,322.00 Z" fill="#151515" opacity="1.0"/>
<path d="M211.50,323.10 L212.23,321.31 L212.96,321.01 L213.69,320.85 L214.42,320.77 L215.15,320.73 L215.88,320.72 L216.60,320.74 L217.33,320.76 L218.06,320.79 L218.79,320.83 L219.52,320.86 L220.25,320.90 L220.98,320.93 L221.71,320.96 L222.44,320.99 L223.17,321.03 L223.90,321.07 L224.62,321.12 L225.35,321.19 L226.08,321.28 L226.81,321.42 L227.54,321.62 L228.27,321.95 L229.00,323.60 L229.00,323.60 L228.27,325.31 L227.54,325.68 L226.81,325.92 L226.08,326.08 L225.35,326.20 L224.62,326.28 L223.90,326.34 L223.17,326.37 L222.44,326.40 L221.71,326.41 L220.98,326.41 L220.25,326.40 L219.52,326.39 L218.79,326.37 L218.06,326.35 L217.33,326.31 L216.60,326.25 L215.88,326.18 L215.15,326.07 L214.42,325.93 L213.69,325.74 L212.96,325.46 L212.23,325.02 L211.50,323.10 Z" fill="#151515" opacity="1.0" stroke="#151515" stroke-opacity="0.3" stroke-width="1.1" stroke-linejoin="round"/>
<path d="M211.50,323.10 L212.23,321.31 L212.96,321.01 L213.69,320.85 L214.42,320.77 L215.15,320.73 L215.88,320.72 L216.60,320.74 L217.33,320.76 L218.06,320.79 L218.79,320.83 L219.52,320.86 L220.25,320.90 L220.98,320.93 L221.71,320.96 L222.44,320.99 L223.17,321.03 L223.90,321.07 L224.62,321.12 L225.35,321.19 L226.08,321.28 L226.81,321.42 L227.54,321.62 L228.27,321.95 L229.00,323.60 L229.00,323.60 L228.27,325.31 L227.54,325.68 L226.81,325.92 L226.08,326.08 L225.35,326.20 L224.62,326.28 L223.90,326.34 L223.17,326.37 L222.44,326.40 L221.71,326.41 L220.98,326.41 L220.25,326.40 L219.52,326.39 L218.79,326.37 L218.06,326.35 L217.33,326.31 L216.60,326.25 L215.88,326.18 L215.15,326.07 L214.42,325.93 L213.69,325.74 L212.96,325.46 L212.23,325.02 L211.50,323.10 Z" fill="#151515" opacity="1.0"/>
<path d="M232.60,324.00 L233.39,322.20 L234.17,321.87 L234.96,321.69 L235.75,321.59 L236.54,321.53 L237.32,321.50 L238.11,321.49 L238.90,321.49 L239.69,321.50 L240.47,321.52 L241.26,321.54 L242.05,321.55 L242.84,321.56 L243.62,321.57 L244.41,321.58 L245.20,321.59 L245.99,321.62 L246.78,321.65 L247.56,321.70 L248.35,321.78 L249.14,321.91 L249.93,322.10 L250.71,322.44 L251.50,324.20 L251.50,324.20 L250.71,326.04 L249.93,326.45 L249.14,326.71 L248.35,326.88 L247.56,327.01 L246.78,327.10 L245.99,327.16 L245.20,327.21 L244.41,327.23 L243.62,327.25 L242.84,327.25 L242.05,327.25 L241.26,327.24 L240.47,327.23 L239.69,327.21 L238.90,327.17 L238.11,327.12 L237.32,327.05 L236.54,326.95 L235.75,326.81 L234.96,326.62 L234.17,326.35 L233.39,325.92 L232.60,324.00 Z" fill="#151515" opacity="1.0" stroke="#151515" stroke-opacity="0.3" stroke-width="1.1" stroke-linejoin="round"/>
<path d="M232.60,324.00 L233.39,322.20 L234.17,321.87 L234.96,321.69 L235.75,321.59 L236.54,321.53 L237.32,321.50 L238.11,321.49 L238.90,321.49 L239.69,321.50 L240.47,321.52 L241.26,321.54 L242.05,321.55 L242.84,321.56 L243.62,321.57 L244.41,321.58 L245.20,321.59 L245.99,321.62 L246.78,321.65 L247.56,321.70 L248.35,321.78 L249.14,321.91 L249.93,322.10 L250.71,322.44 L251.50,324.20 L251.50,324.20 L250.71,326.04 L249.93,326.45 L249.14,326.71 L248.35,326.88 L247.56,327.01 L246.78,327.10 L245.99,327.16 L245.20,327.21 L244.41,327.23 L243.62,327.25 L242.84,327.25 L242.05,327.25 L241.26,327.24 L240.47,327.23 L239.69,327.21 L238.90,327.17 L238.11,327.12 L237.32,327.05 L236.54,326.95 L235.75,326.81 L234.96,326.62 L234.17,326.35 L233.39,325.92 L232.60,324.00 Z" fill="#151515" opacity="1.0"/>
<path d="M255.30,324.00 L256.05,322.19 L256.80,321.85 L257.55,321.67 L258.30,321.56 L259.05,321.49 L259.80,321.45 L260.55,321.43 L261.30,321.43 L262.05,321.43 L262.80,321.44 L263.55,321.44 L264.30,321.45 L265.05,321.45 L265.80,321.45 L266.55,321.45 L267.30,321.46 L268.05,321.47 L268.80,321.50 L269.55,321.55 L270.30,321.63 L271.05,321.74 L271.80,321.94 L272.55,322.28 L273.30,324.10 L273.30,324.10 L272.55,326.01 L271.80,326.43 L271.05,326.69 L270.30,326.87 L269.55,327.00 L268.80,327.10 L268.05,327.16 L267.30,327.21 L266.55,327.23 L265.80,327.25 L265.05,327.25 L264.30,327.25 L263.55,327.24 L262.80,327.23 L262.05,327.21 L261.30,327.17 L260.55,327.12 L259.80,327.05 L259.05,326.95 L258.30,326.81 L257.55,326.62 L256.80,326.35 L256.05,325.92 L255.30,324.00 Z" fill="#151515" opacity="1.0" stroke="#151515" stroke-opacity="0.3" stroke-width="1.1" stroke-linejoin="round"/>
<path d="M255.30,324.00 L256.05,322.19 L256.80,321.85 L257.55,321.67 L258.30,321.56 L259.05,321.49 L259.80,321.45 L260.55,321.43 L261.30,321.43 L262.05,321.43 L262.80,321.44 L263.55,321.44 L264.30,321.45 L265.05,321.45 L265.80,321.45 L266.55,321.45 L267.30,321.46 L268.05,321.47 L268.80,321.50 L269.55,321.55 L270.30,321.63 L271.05,321.74 L271.80,321.94 L272.55,322.28 L273.30,324.10 L273.30,324.10 L272.55,326.01 L271.80,326.43 L271.05,326.69 L270.30,326.87 L269.55,327.00 L268.80,327.10 L268.05,327.16 L267.30,327.21 L266.55,327.23 L265.80,327.25 L265.05,327.25 L264.30,327.25 L263.55,327.24 L262.80,327.23 L262.05,327.21 L261.30,327.17 L260.55,327.12 L259.80,327.05 L259.05,326.95 L258.30,326.81 L257.55,326.62 L256.80,326.35 L256.05,325.92 L255.30,324.00 Z" fill="#151515" opacity="1.0"/>
<line x1="52.0" y1="295.1" x2="58.0" y2="295.1" stroke="#555" stroke-width="1.2"/>
<path d="M61.6 295.1 L56.4 292.5 L57.6 295.1 L56.4 297.7 Z" fill="#0a0a0a" stroke="#0a0a0a" stroke-width="0.5" stroke-linejoin="round"/>
<line x1="80.5" y1="234" x2="80.5" y2="246" stroke="#111" stroke-width="1.0" stroke-dasharray="1 1"/>
<line x1="120.5" y1="234" x2="120.5" y2="246" stroke="#111" stroke-width="1.0" stroke-dasharray="1 1"/>
<line x1="83.5" y1="269" x2="83.5" y2="280" stroke="#111" stroke-width="1.0" stroke-dasharray="1 1"/>
<line x1="120.5" y1="269" x2="120.5" y2="280" stroke="#111" stroke-width="1.0" stroke-dasharray="1 1"/>
<line x1="83.5" y1="292" x2="83.5" y2="303" stroke="#111" stroke-width="1.0" stroke-dasharray="1 1"/>
<line x1="120.5" y1="292" x2="120.5" y2="303" stroke="#111" stroke-width="1.0" stroke-dasharray="1 1"/>
<line x1="80.5" y1="317" x2="80.5" y2="329" stroke="#111" stroke-width="1.0" stroke-dasharray="1 1"/>
<line x1="120.5" y1="317" x2="120.5" y2="329" stroke="#111" stroke-width="1.0" stroke-dasharray="1 1"/>
<text x="318.0" y="187.3" font-size="10.2" text-anchor="start" fill="#111" stroke="#111" stroke-width="0.25">D</text>
<text x="374.2" y="197.7" font-size="8.7" text-anchor="start" fill="#1a1a1a" textLength="103.5" lengthAdjust="spacingAndGlyphs" stroke="#1a1a1a" stroke-width="0.1">Enrichment plot: P53_DN.V1_UP</text>
<rect x="351.4" y="202.2" width="149.60000000000002" height="64.40000000000003" fill="#fff"/>
<line x1="351.4" y1="264.0" x2="501.0" y2="264.0" stroke="#e4e4e4" stroke-width="0.8"/>
<line x1="351.4" y1="251.0" x2="501.0" y2="251.0" stroke="#e4e4e4" stroke-width="0.8"/>
<line x1="351.4" y1="244.5" x2="501.0" y2="244.5" stroke="#e4e4e4" stroke-width="0.8"/>
<line x1="351.4" y1="238.0" x2="501.0" y2="238.0" stroke="#e4e4e4" stroke-width="0.8"/>
<line x1="351.4" y1="231.5" x2="501.0" y2="231.5" stroke="#e4e4e4" stroke-width="0.8"/>
<line x1="351.4" y1="225.0" x2="501.0" y2="225.0" stroke="#e4e4e4" stroke-width="0.8"/>
<line x1="351.4" y1="218.5" x2="501.0" y2="218.5" stroke="#e4e4e4" stroke-width="0.8"/>
<line x1="351.4" y1="212.0" x2="501.0" y2="212.0" stroke="#e4e4e4" stroke-width="0.8"/>
<line x1="351.4" y1="205.5" x2="501.0" y2="205.5" stroke="#e4e4e4" stroke-width="0.8"/>
<line x1="379.6" y1="202.2" x2="379.6" y2="266.6" stroke="#e4e4e4" stroke-width="0.8"/>
<line x1="407.6" y1="202.2" x2="407.6" y2="266.6" stroke="#e4e4e4" stroke-width="0.8"/>
<line x1="435.2" y1="202.2" x2="435.2" y2="266.6" stroke="#e4e4e4" stroke-width="0.8"/>
<line x1="462.6" y1="202.2" x2="462.6" y2="266.6" stroke="#e4e4e4" stroke-width="0.8"/>
<line x1="490.7" y1="202.2" x2="490.7" y2="266.6" stroke="#e4e4e4" stroke-width="0.8"/>
<line x1="351.4" y1="257.5" x2="501.0" y2="257.5" stroke="#8a8a8a" stroke-width="0.9"/>
<line x1="350.3" y1="264.0" x2="351.4" y2="264.0" stroke="#666" stroke-width="0.7"/>
<text x="347.3" y="265.8" font-size="5.0" text-anchor="end" fill="#222" textLength="11.2" lengthAdjust="spacingAndGlyphs">-0.05</text>
<line x1="350.3" y1="257.5" x2="351.4" y2="257.5" stroke="#666" stroke-width="0.7"/>
<text x="347.3" y="259.3" font-size="5.0" text-anchor="end" fill="#222" textLength="10.0" lengthAdjust="spacingAndGlyphs">0.00</text>
<line x1="350.3" y1="251.0" x2="351.4" y2="251.0" stroke="#666" stroke-width="0.7"/>
<text x="347.3" y="252.8" font-size="5.0" text-anchor="end" fill="#222" textLength="10.0" lengthAdjust="spacingAndGlyphs">0.05</text>
<line x1="350.3" y1="244.5" x2="351.4" y2="244.5" stroke="#666" stroke-width="0.7"/>
<text x="347.3" y="246.3" font-size="5.0" text-anchor="end" fill="#222" textLength="10.0" lengthAdjust="spacingAndGlyphs">0.10</text>
<line x1="350.3" y1="238.0" x2="351.4" y2="238.0" stroke="#666" stroke-width="0.7"/>
<text x="347.3" y="239.8" font-size="5.0" text-anchor="end" fill="#222" textLength="10.0" lengthAdjust="spacingAndGlyphs">0.15</text>
<line x1="350.3" y1="231.5" x2="351.4" y2="231.5" stroke="#666" stroke-width="0.7"/>
<text x="347.3" y="233.3" font-size="5.0" text-anchor="end" fill="#222" textLength="10.0" lengthAdjust="spacingAndGlyphs">0.20</text>
<line x1="350.3" y1="225.0" x2="351.4" y2="225.0" stroke="#666" stroke-width="0.7"/>
<text x="347.3" y="226.8" font-size="5.0" text-anchor="end" fill="#222" textLength="10.0" lengthAdjust="spacingAndGlyphs">0.25</text>
<line x1="350.3" y1="218.5" x2="351.4" y2="218.5" stroke="#666" stroke-width="0.7"/>
<text x="347.3" y="220.3" font-size="5.0" text-anchor="end" fill="#222" textLength="10.0" lengthAdjust="spacingAndGlyphs">0.30</text>
<line x1="350.3" y1="212.0" x2="351.4" y2="212.0" stroke="#666" stroke-width="0.7"/>
<text x="347.3" y="213.8" font-size="5.0" text-anchor="end" fill="#222" textLength="10.0" lengthAdjust="spacingAndGlyphs">0.35</text>
<line x1="350.3" y1="205.5" x2="351.4" y2="205.5" stroke="#666" stroke-width="0.7"/>
<text x="347.3" y="207.3" font-size="5.0" text-anchor="end" fill="#222" textLength="10.0" lengthAdjust="spacingAndGlyphs">0.40</text>
<path d="M351.3,257.4 L351.6,248.1 L352.1,238.1 L353,236.5 L353.8,234.8 L354.6,230.7 L355.5,226.5 L356.3,225.7 L357.1,224.9 L358,221.6 L359.3,218.6 L360.4,219.6 L361.6,219.9 L362.9,218.2 L363.8,214.9 L364.6,211.6 L366.2,210.3 L367.6,211.3 L368.7,210 L370.4,209.1 L372,207.5 L373.7,207.1 L375.4,206.6 L377,207.5 L378.7,209.1 L380.3,206.6 L382,206.3 L383.7,205.3 L385.3,206.3 L387,207.5 L388.6,207.8 L391.1,208 L393.6,209.1 L396.1,210.8 L398.6,212.4 L401.1,213.6 L403.6,214.6 L406,216.6 L408.3,219.1 L411.6,221.6 L416.6,226.5 L421.6,229.9 L426.5,234 L431.5,237.8 L436.5,241.8 L441.5,245.1 L446.4,247.8 L450,249.8 L452.1,250.9 L454.8,251.9 L457.4,253.8 L460.1,255.6 L462.7,257.4 L464.3,258.3 L465.9,256.7 L467.5,257.4 L468.8,256.4 L470.1,257.4 L471.7,258.8 L473.3,258.3 L475.4,259.9 L477.5,261.2 L479.1,261.5 L481.2,262.7 L482.3,261.5 L483.9,259.3 L486,260.2 L488.1,261.5 L489.7,262.7 L490.7,260.4 L491.5,255.3 L492.3,256.2 L493.6,257.2" fill="none" stroke="#5a5a5a" stroke-width="1.3" stroke-linejoin="round"/>
<text x="449.7" y="210.2" font-size="5.0" text-anchor="start" fill="#222" textLength="32.5" lengthAdjust="spacingAndGlyphs">FDR Q = 0.039</text>
<text x="449.7" y="216.7" font-size="5.0" text-anchor="start" fill="#222" textLength="23.8" lengthAdjust="spacingAndGlyphs">NES = 1.66</text>
<text x="449.7" y="223.2" font-size="5.0" text-anchor="start" fill="#222" textLength="36.1" lengthAdjust="spacingAndGlyphs">Nominal p = 0.0</text>
<rect x="351.4" y="266.8" width="149.60000000000002" height="20.80000000000001" fill="#fff"/>
<rect x="351.4" y="266.8" width="0.6000000000000227" height="20.80000000000001" fill="#141414"/>
<rect x="352" y="266.8" width="1" height="20.80000000000001" fill="#3c3c3c"/>
<rect x="353" y="266.8" width="1" height="20.80000000000001" fill="#969696"/>
<rect x="354" y="266.8" width="1" height="20.80000000000001" fill="#323232"/>
<rect x="355" y="266.8" width="1" height="20.80000000000001" fill="#505050"/>
<rect x="356" y="266.8" width="1" height="20.80000000000001" fill="#f0f0f0"/>
<rect x="357" y="266.8" width="1" height="20.80000000000001" fill="#0a0a0a"/>
<rect x="358" y="266.8" width="1" height="20.80000000000001" fill="#464646"/>
<rect x="359" y="266.8" width="1" height="20.80000000000001" fill="#aaaaaa"/>
<rect x="360" y="266.8" width="1" height="20.80000000000001" fill="#d2d2d2"/>
<rect x="361" y="266.8" width="1" height="20.80000000000001" fill="#c8c8c8"/>
<rect x="362" y="266.8" width="1" height="20.80000000000001" fill="#787878"/>
<rect x="363" y="266.8" width="1" height="20.80000000000001" fill="#505050"/>
<rect x="364" y="266.8" width="1" height="20.80000000000001" fill="#828282"/>
<rect x="365" y="266.8" width="1" height="20.80000000000001" fill="#c8c8c8"/>
<rect x="366" y="266.8" width="1" height="20.80000000000001" fill="#dcdcdc"/>
<rect x="367" y="266.8" width="1" height="20.80000000000001" fill="#8c8c8c"/>
<rect x="368" y="266.8" width="1" height="20.80000000000001" fill="#5a5a5a"/>
<rect x="369" y="266.8" width="1" height="20.80000000000001" fill="#c8c8c8"/>
<rect x="370" y="266.8" width="1" height="20.80000000000001" fill="#787878"/>
<rect x="371" y="266.8" width="1" height="20.80000000000001" fill="#828282"/>
<rect x="372" y="266.8" width="1" height="20.80000000000001" fill="#828282"/>
<rect x="373" y="266.8" width="1" height="20.80000000000001" fill="#8c8c8c"/>
<rect x="374" y="266.8" width="1" height="20.80000000000001" fill="#787878"/>
<rect x="375" y="266.8" width="1" height="20.80000000000001" fill="#969696"/>
<rect x="378" y="266.8" width="1" height="20.80000000000001" fill="#f5f5f5"/>
<rect x="379" y="266.8" width="1" height="20.80000000000001" fill="#323232"/>
<rect x="380" y="266.8" width="1" height="20.80000000000001" fill="#969696"/>
<rect x="381" y="266.8" width="1" height="20.80000000000001" fill="#bebebe"/>
<rect x="382" y="266.8" width="1" height="20.80000000000001" fill="#bebebe"/>
<rect x="383" y="266.8" width="1" height="20.80000000000001" fill="#828282"/>
<rect x="384" y="266.8" width="1" height="20.80000000000001" fill="#f0f0f0"/>
<rect x="386" y="266.8" width="1" height="20.80000000000001" fill="#dcdcdc"/>
<rect x="387" y="266.8" width="1" height="20.80000000000001" fill="#8c8c8c"/>
<rect x="388" y="266.8" width="1" height="20.80000000000001" fill="#969696"/>
<rect x="389" y="266.8" width="1" height="20.80000000000001" fill="#8c8c8c"/>
<rect x="390" y="266.8" width="1" height="20.80000000000001" fill="#828282"/>
<rect x="391" y="266.8" width="1" height="20.80000000000001" fill="#5a5a5a"/>
<rect x="392" y="266.8" width="1" height="20.80000000000001" fill="#a0a0a0"/>
<rect x="393" y="266.8" width="1" height="20.80000000000001" fill="#787878"/>
<rect x="394" y="266.8" width="1" height="20.80000000000001" fill="#c8c8c8"/>
<rect x="397" y="266.8" width="1" height="20.80000000000001" fill="#dcdcdc"/>
<rect x="398" y="266.8" width="1" height="20.80000000000001" fill="#969696"/>
<rect x="399" y="266.8" width="1" height="20.80000000000001" fill="#828282"/>
<rect x="400" y="266.8" width="1" height="20.80000000000001" fill="#6e6e6e"/>
<rect x="401" y="266.8" width="1" height="20.80000000000001" fill="#282828"/>
<rect x="402" y="266.8" width="1" height="20.80000000000001" fill="#787878"/>
<rect x="403" y="266.8" width="1" height="20.80000000000001" fill="#dcdcdc"/>
<rect x="406" y="266.8" width="1" height="20.80000000000001" fill="#f5f5f5"/>
<rect x="407" y="266.8" width="1" height="20.80000000000001" fill="#505050"/>
<rect x="408" y="266.8" width="1" height="20.80000000000001" fill="#969696"/>
<rect x="409" y="266.8" width="1" height="20.80000000000001" fill="#c8c8c8"/>
<rect x="410" y="266.8" width="1" height="20.80000000000001" fill="#aaaaaa"/>
<rect x="411" y="266.8" width="1" height="20.80000000000001" fill="#828282"/>
<rect x="412" y="266.8" width="1" height="20.80000000000001" fill="#bebebe"/>
<rect x="413" y="266.8" width="1" height="20.80000000000001" fill="#d2d2d2"/>
<rect x="414" y="266.8" width="1" height="20.80000000000001" fill="#f0f0f0"/>
<rect x="415" y="266.8" width="1" height="20.80000000000001" fill="#aaaaaa"/>
<rect x="416" y="266.8" width="1" height="20.80000000000001" fill="#8c8c8c"/>
<rect x="417" y="266.8" width="1" height="20.80000000000001" fill="#969696"/>
<rect x="418" y="266.8" width="1" height="20.80000000000001" fill="#8c8c8c"/>
<rect x="419" y="266.8" width="1" height="20.80000000000001" fill="#969696"/>
<rect x="420" y="266.8" width="1" height="20.80000000000001" fill="#787878"/>
<rect x="421" y="266.8" width="1" height="20.80000000000001" fill="#282828"/>
<rect x="422" y="266.8" width="1" height="20.80000000000001" fill="#f0f0f0"/>
<rect x="423" y="266.8" width="1" height="20.80000000000001" fill="#d2d2d2"/>
<rect x="424" y="266.8" width="1" height="20.80000000000001" fill="#505050"/>
<rect x="425" y="266.8" width="1" height="20.80000000000001" fill="#828282"/>
<rect x="426" y="266.8" width="1" height="20.80000000000001" fill="#969696"/>
<rect x="427" y="266.8" width="1" height="20.80000000000001" fill="#bebebe"/>
<rect x="428" y="266.8" width="1" height="20.80000000000001" fill="#c8c8c8"/>
<rect x="429" y="266.8" width="1" height="20.80000000000001" fill="#f0f0f0"/>
<rect x="430" y="266.8" width="1" height="20.80000000000001" fill="#464646"/>
<rect x="431" y="266.8" width="1" height="20.80000000000001" fill="#969696"/>
<rect x="432" y="266.8" width="1" height="20.80000000000001" fill="#f0f0f0"/>
<rect x="433" y="266.8" width="1" height="20.80000000000001" fill="#dcdcdc"/>
<rect x="434" y="266.8" width="1" height="20.80000000000001" fill="#3c3c3c"/>
<rect x="435" y="266.8" width="1" height="20.80000000000001" fill="#969696"/>
<rect x="436" y="266.8" width="1" height="20.80000000000001" fill="#f5f5f5"/>
<rect x="437" y="266.8" width="1" height="20.80000000000001" fill="#d2d2d2"/>
<rect x="438" y="266.8" width="1" height="20.80000000000001" fill="#787878"/>
<rect x="439" y="266.8" width="1" height="20.80000000000001" fill="#e6e6e6"/>
<rect x="440" y="266.8" width="1" height="20.80000000000001" fill="#c8c8c8"/>
<rect x="441" y="266.8" width="1" height="20.80000000000001" fill="#141414"/>
<rect x="442" y="266.8" width="1" height="20.80000000000001" fill="#828282"/>
<rect x="443" y="266.8" width="1" height="20.80000000000001" fill="#e6e6e6"/>
<rect x="444" y="266.8" width="1" height="20.80000000000001" fill="#ebebeb"/>
<rect x="445" y="266.8" width="1" height="20.80000000000001" fill="#969696"/>
<rect x="446" y="266.8" width="1" height="20.80000000000001" fill="#323232"/>
<rect x="447" y="266.8" width="1" height="20.80000000000001" fill="#787878"/>
<rect x="448" y="266.8" width="1" height="20.80000000000001" fill="#f0f0f0"/>
<rect x="449" y="266.8" width="1" height="20.80000000000001" fill="#d2d2d2"/>
<rect x="450" y="266.8" width="1" height="20.80000000000001" fill="#787878"/>
<rect x="451" y="266.8" width="1" height="20.80000000000001" fill="#505050"/>
<rect x="452" y="266.8" width="1" height="20.80000000000001" fill="#464646"/>
<rect x="453" y="266.8" width="1" height="20.80000000000001" fill="#6e6e6e"/>
<rect x="454" y="266.8" width="1" height="20.80000000000001" fill="#c8c8c8"/>
<rect x="455" y="266.8" width="1" height="20.80000000000001" fill="#f0f0f0"/>
<rect x="456" y="266.8" width="1" height="20.80000000000001" fill="#bebebe"/>
<rect x="457" y="266.8" width="1" height="20.80000000000001" fill="#8c8c8c"/>
<rect x="458" y="266.8" width="1" height="20.80000000000001" fill="#f0f0f0"/>
<rect x="459" y="266.8" width="1" height="20.80000000000001" fill="#dcdcdc"/>
<rect x="460" y="266.8" width="1" height="20.80000000000001" fill="#aaaaaa"/>
<rect x="461" y="266.8" width="1" height="20.80000000000001" fill="#969696"/>
<rect x="462" y="266.8" width="1" height="20.80000000000001" fill="#d2d2d2"/>
<rect x="463" y="266.8" width="1" height="20.80000000000001" fill="#8c8c8c"/>
<rect x="464" y="266.8" width="1" height="20.80000000000001" fill="#141414"/>
<rect x="465" y="266.8" width="1" height="20.80000000000001" fill="#3c3c3c"/>
<rect x="466" y="266.8" width="1" height="20.80000000000001" fill="#dcdcdc"/>
<rect x="467" y="266.8" width="1" height="20.80000000000001" fill="#323232"/>
<rect x="468" y="266.8" width="1" height="20.80000000000001" fill="#8c8c8c"/>
<rect x="470" y="266.8" width="1" height="20.80000000000001" fill="#f5f5f5"/>
<rect x="471" y="266.8" width="1" height="20.80000000000001" fill="#a0a0a0"/>
<rect x="472" y="266.8" width="1" height="20.80000000000001" fill="#3c3c3c"/>
<rect x="473" y="266.8" width="1" height="20.80000000000001" fill="#c8c8c8"/>
<rect x="475" y="266.8" width="1" height="20.80000000000001" fill="#dcdcdc"/>
<rect x="476" y="266.8" width="1" height="20.80000000000001" fill="#a0a0a0"/>
<rect x="477" y="266.8" width="1" height="20.80000000000001" fill="#d2d2d2"/>
<rect x="478" y="266.8" width="1" height="20.80000000000001" fill="#464646"/>
<rect x="479" y="266.8" width="1" height="20.80000000000001" fill="#e6e6e6"/>
<rect x="480" y="266.8" width="1" height="20.80000000000001" fill="#c8c8c8"/>
<rect x="481" y="266.8" width="1" height="20.80000000000001" fill="#787878"/>
<rect x="482" y="266.8" width="1" height="20.80000000000001" fill="#3c3c3c"/>
<rect x="483" y="266.8" width="1" height="20.80000000000001" fill="#6e6e6e"/>
<rect x="484" y="266.8" width="1" height="20.80000000000001" fill="#c8c8c8"/>
<rect x="485" y="266.8" width="1" height="20.80000000000001" fill="#f0f0f0"/>
<rect x="486" y="266.8" width="1" height="20.80000000000001" fill="#bebebe"/>
<rect x="487" y="266.8" width="1" height="20.80000000000001" fill="#aaaaaa"/>
<rect x="488" y="266.8" width="1" height="20.80000000000001" fill="#f0f0f0"/>
<rect x="489" y="266.8" width="1" height="20.80000000000001" fill="#8c8c8c"/>
<rect x="490" y="266.8" width="1" height="20.80000000000001" fill="#464646"/>
<rect x="491" y="266.8" width="1" height="20.80000000000001" fill="#8c8c8c"/>
<defs><linearGradient id="strip" x1="351.4" x2="501.0" gradientUnits="userSpaceOnUse"><stop offset="0" stop-color="#262626"/><stop offset="0.370" stop-color="#333"/><stop offset="0.390" stop-color="#9a9a9a"/><stop offset="0.669" stop-color="#9a9a9a"/><stop offset="0.679" stop-color="#222"/><stop offset="0.953" stop-color="#111"/><stop offset="0.954" stop-color="#fff"/><stop offset="1" stop-color="#fff"/></linearGradient></defs>
<rect x="351.4" y="287.6" width="149.60000000000002" height="5.0" fill="url(#strip)"/>
<rect x="351.4" y="287.6" width="0.6000000000000227" height="5.0" fill="#141414" opacity="0.3"/>
<rect x="352" y="287.6" width="1" height="5.0" fill="#3c3c3c" opacity="0.3"/>
<rect x="353" y="287.6" width="1" height="5.0" fill="#969696" opacity="0.3"/>
<rect x="354" y="287.6" width="1" height="5.0" fill="#323232" opacity="0.3"/>
<rect x="355" y="287.6" width="1" height="5.0" fill="#505050" opacity="0.3"/>
<rect x="356" y="287.6" width="1" height="5.0" fill="#f0f0f0" opacity="0.3"/>
<rect x="357" y="287.6" width="1" height="5.0" fill="#0a0a0a" opacity="0.3"/>
<rect x="358" y="287.6" width="1" height="5.0" fill="#464646" opacity="0.3"/>
<rect x="359" y="287.6" width="1" height="5.0" fill="#aaaaaa" opacity="0.3"/>
<rect x="360" y="287.6" width="1" height="5.0" fill="#d2d2d2" opacity="0.3"/>
<rect x="361" y="287.6" width="1" height="5.0" fill="#c8c8c8" opacity="0.3"/>
<rect x="362" y="287.6" width="1" height="5.0" fill="#787878" opacity="0.3"/>
<rect x="363" y="287.6" width="1" height="5.0" fill="#505050" opacity="0.3"/>
<rect x="364" y="287.6" width="1" height="5.0" fill="#828282" opacity="0.3"/>
<rect x="365" y="287.6" width="1" height="5.0" fill="#c8c8c8" opacity="0.3"/>
<rect x="366" y="287.6" width="1" height="5.0" fill="#dcdcdc" opacity="0.3"/>
<rect x="367" y="287.6" width="1" height="5.0" fill="#8c8c8c" opacity="0.3"/>
<rect x="368" y="287.6" width="1" height="5.0" fill="#5a5a5a" opacity="0.3"/>
<rect x="369" y="287.6" width="1" height="5.0" fill="#c8c8c8" opacity="0.3"/>
<rect x="370" y="287.6" width="1" height="5.0" fill="#787878" opacity="0.3"/>
<rect x="371" y="287.6" width="1" height="5.0" fill="#828282" opacity="0.3"/>
<rect x="372" y="287.6" width="1" height="5.0" fill="#828282" opacity="0.3"/>
<rect x="373" y="287.6" width="1" height="5.0" fill="#8c8c8c" opacity="0.3"/>
<rect x="374" y="287.6" width="1" height="5.0" fill="#787878" opacity="0.3"/>
<rect x="375" y="287.6" width="1" height="5.0" fill="#969696" opacity="0.3"/>
<rect x="376" y="287.6" width="1" height="5.0" fill="#fafafa" opacity="0.3"/>
<rect x="377" y="287.6" width="1" height="5.0" fill="#ffffff" opacity="0.3"/>
<rect x="378" y="287.6" width="1" height="5.0" fill="#f5f5f5" opacity="0.3"/>
<rect x="379" y="287.6" width="1" height="5.0" fill="#323232" opacity="0.3"/>
<rect x="380" y="287.6" width="1" height="5.0" fill="#969696" opacity="0.3"/>
<rect x="381" y="287.6" width="1" height="5.0" fill="#bebebe" opacity="0.3"/>
<rect x="382" y="287.6" width="1" height="5.0" fill="#bebebe" opacity="0.3"/>
<rect x="383" y="287.6" width="1" height="5.0" fill="#828282" opacity="0.3"/>
<rect x="384" y="287.6" width="1" height="5.0" fill="#f0f0f0" opacity="0.3"/>
<rect x="385" y="287.6" width="1" height="5.0" fill="#ffffff" opacity="0.3"/>
<rect x="386" y="287.6" width="1" height="5.0" fill="#dcdcdc" opacity="0.3"/>
<rect x="387" y="287.6" width="1" height="5.0" fill="#8c8c8c" opacity="0.3"/>
<rect x="388" y="287.6" width="1" height="5.0" fill="#969696" opacity="0.3"/>
<rect x="389" y="287.6" width="1" height="5.0" fill="#8c8c8c" opacity="0.3"/>
<rect x="390" y="287.6" width="1" height="5.0" fill="#828282" opacity="0.3"/>
<rect x="391" y="287.6" width="1" height="5.0" fill="#5a5a5a" opacity="0.3"/>
<rect x="392" y="287.6" width="1" height="5.0" fill="#a0a0a0" opacity="0.3"/>
<rect x="393" y="287.6" width="1" height="5.0" fill="#787878" opacity="0.3"/>
<rect x="394" y="287.6" width="1" height="5.0" fill="#c8c8c8" opacity="0.3"/>
<rect x="395" y="287.6" width="1" height="5.0" fill="#fafafa" opacity="0.3"/>
<rect x="396" y="287.6" width="1" height="5.0" fill="#fafafa" opacity="0.3"/>
<rect x="397" y="287.6" width="1" height="5.0" fill="#dcdcdc" opacity="0.3"/>
<rect x="398" y="287.6" width="1" height="5.0" fill="#969696" opacity="0.3"/>
<rect x="399" y="287.6" width="1" height="5.0" fill="#828282" opacity="0.3"/>
<rect x="400" y="287.6" width="1" height="5.0" fill="#6e6e6e" opacity="0.3"/>
<rect x="401" y="287.6" width="1" height="5.0" fill="#282828" opacity="0.3"/>
<rect x="402" y="287.6" width="1" height="5.0" fill="#787878" opacity="0.3"/>
<rect x="403" y="287.6" width="1" height="5.0" fill="#dcdcdc" opacity="0.3"/>
<rect x="404" y="287.6" width="1" height="5.0" fill="#fafafa" opacity="0.3"/>
<rect x="405" y="287.6" width="1" height="5.0" fill="#fafafa" opacity="0.3"/>
<rect x="406" y="287.6" width="1" height="5.0" fill="#f5f5f5" opacity="0.3"/>
<rect x="407" y="287.6" width="1" height="5.0" fill="#505050" opacity="0.3"/>
<rect x="408" y="287.6" width="1" height="5.0" fill="#969696" opacity="0.3"/>
<rect x="409" y="287.6" width="1" height="5.0" fill="#c8c8c8" opacity="0.3"/>
<rect x="410" y="287.6" width="1" height="5.0" fill="#aaaaaa" opacity="0.3"/>
<rect x="411" y="287.6" width="1" height="5.0" fill="#828282" opacity="0.3"/>
<rect x="412" y="287.6" width="1" height="5.0" fill="#bebebe" opacity="0.3"/>
<rect x="413" y="287.6" width="1" height="5.0" fill="#d2d2d2" opacity="0.3"/>
<rect x="414" y="287.6" width="1" height="5.0" fill="#f0f0f0" opacity="0.3"/>
<rect x="415" y="287.6" width="1" height="5.0" fill="#aaaaaa" opacity="0.3"/>
<rect x="416" y="287.6" width="1" height="5.0" fill="#8c8c8c" opacity="0.3"/>
<rect x="417" y="287.6" width="1" height="5.0" fill="#969696" opacity="0.3"/>
<rect x="418" y="287.6" width="1" height="5.0" fill="#8c8c8c" opacity="0.3"/>
<rect x="419" y="287.6" width="1" height="5.0" fill="#969696" opacity="0.3"/>
<rect x="420" y="287.6" width="1" height="5.0" fill="#787878" opacity="0.3"/>
<rect x="421" y="287.6" width="1" height="5.0" fill="#282828" opacity="0.3"/>
<rect x="422" y="287.6" width="1" height="5.0" fill="#f0f0f0" opacity="0.3"/>
<rect x="423" y="287.6" width="1" height="5.0" fill="#d2d2d2" opacity="0.3"/>
<rect x="424" y="287.6" width="1" height="5.0" fill="#505050" opacity="0.3"/>
<rect x="425" y="287.6" width="1" height="5.0" fill="#828282" opacity="0.3"/>
<rect x="426" y="287.6" width="1" height="5.0" fill="#969696" opacity="0.3"/>
<rect x="427" y="287.6" width="1" height="5.0" fill="#bebebe" opacity="0.3"/>
<rect x="428" y="287.6" width="1" height="5.0" fill="#c8c8c8" opacity="0.3"/>
<rect x="429" y="287.6" width="1" height="5.0" fill="#f0f0f0" opacity="0.3"/>
<rect x="430" y="287.6" width="1" height="5.0" fill="#464646" opacity="0.3"/>
<rect x="431" y="287.6" width="1" height="5.0" fill="#969696" opacity="0.3"/>
<rect x="432" y="287.6" width="1" height="5.0" fill="#f0f0f0" opacity="0.3"/>
<rect x="433" y="287.6" width="1" height="5.0" fill="#dcdcdc" opacity="0.3"/>
<rect x="434" y="287.6" width="1" height="5.0" fill="#3c3c3c" opacity="0.3"/>
<rect x="435" y="287.6" width="1" height="5.0" fill="#969696" opacity="0.3"/>
<rect x="436" y="287.6" width="1" height="5.0" fill="#f5f5f5" opacity="0.3"/>
<rect x="437" y="287.6" width="1" height="5.0" fill="#d2d2d2" opacity="0.3"/>
<rect x="438" y="287.6" width="1" height="5.0" fill="#787878" opacity="0.3"/>
<rect x="439" y="287.6" width="1" height="5.0" fill="#e6e6e6" opacity="0.3"/>
<rect x="440" y="287.6" width="1" height="5.0" fill="#c8c8c8" opacity="0.3"/>
<rect x="441" y="287.6" width="1" height="5.0" fill="#141414" opacity="0.3"/>
<rect x="442" y="287.6" width="1" height="5.0" fill="#828282" opacity="0.3"/>
<rect x="443" y="287.6" width="1" height="5.0" fill="#e6e6e6" opacity="0.3"/>
<rect x="444" y="287.6" width="1" height="5.0" fill="#ebebeb" opacity="0.3"/>
<rect x="445" y="287.6" width="1" height="5.0" fill="#969696" opacity="0.3"/>
<rect x="446" y="287.6" width="1" height="5.0" fill="#323232" opacity="0.3"/>
<rect x="447" y="287.6" width="1" height="5.0" fill="#787878" opacity="0.3"/>
<rect x="448" y="287.6" width="1" height="5.0" fill="#f0f0f0" opacity="0.3"/>
<rect x="449" y="287.6" width="1" height="5.0" fill="#d2d2d2" opacity="0.3"/>
<rect x="450" y="287.6" width="1" height="5.0" fill="#787878" opacity="0.3"/>
<rect x="451" y="287.6" width="1" height="5.0" fill="#505050" opacity="0.3"/>
<rect x="452" y="287.6" width="1" height="5.0" fill="#464646" opacity="0.3"/>
<rect x="453" y="287.6" width="1" height="5.0" fill="#6e6e6e" opacity="0.3"/>
<rect x="454" y="287.6" width="1" height="5.0" fill="#c8c8c8" opacity="0.3"/>
<rect x="455" y="287.6" width="1" height="5.0" fill="#f0f0f0" opacity="0.3"/>
<rect x="456" y="287.6" width="1" height="5.0" fill="#bebebe" opacity="0.3"/>
<rect x="457" y="287.6" width="1" height="5.0" fill="#8c8c8c" opacity="0.3"/>
<rect x="458" y="287.6" width="1" height="5.0" fill="#f0f0f0" opacity="0.3"/>
<rect x="459" y="287.6" width="1" height="5.0" fill="#dcdcdc" opacity="0.3"/>
<rect x="460" y="287.6" width="1" height="5.0" fill="#aaaaaa" opacity="0.3"/>
<rect x="461" y="287.6" width="1" height="5.0" fill="#969696" opacity="0.3"/>
<rect x="462" y="287.6" width="1" height="5.0" fill="#d2d2d2" opacity="0.3"/>
<rect x="463" y="287.6" width="1" height="5.0" fill="#8c8c8c" opacity="0.3"/>
<rect x="464" y="287.6" width="1" height="5.0" fill="#141414" opacity="0.3"/>
<rect x="465" y="287.6" width="1" height="5.0" fill="#3c3c3c" opacity="0.3"/>
<rect x="466" y="287.6" width="1" height="5.0" fill="#dcdcdc" opacity="0.3"/>
<rect x="467" y="287.6" width="1" height="5.0" fill="#323232" opacity="0.3"/>
<rect x="468" y="287.6" width="1" height="5.0" fill="#8c8c8c" opacity="0.3"/>
<rect x="469" y="287.6" width="1" height="5.0" fill="#fafafa" opacity="0.3"/>
<rect x="470" y="287.6" width="1" height="5.0" fill="#f5f5f5" opacity="0.3"/>
<rect x="471" y="287.6" width="1" height="5.0" fill="#a0a0a0" opacity="0.3"/>
<rect x="472" y="287.6" width="1" height="5.0" fill="#3c3c3c" opacity="0.3"/>
<rect x="473" y="287.6" width="1" height="5.0" fill="#c8c8c8" opacity="0.3"/>
<rect x="474" y="287.6" width="1" height="5.0" fill="#fafafa" opacity="0.3"/>
<rect x="475" y="287.6" width="1" height="5.0" fill="#dcdcdc" opacity="0.3"/>
<rect x="476" y="287.6" width="1" height="5.0" fill="#a0a0a0" opacity="0.3"/>
<rect x="477" y="287.6" width="1" height="5.0" fill="#d2d2d2" opacity="0.3"/>
<rect x="478" y="287.6" width="1" height="5.0" fill="#464646" opacity="0.3"/>
<rect x="479" y="287.6" width="1" height="5.0" fill="#e6e6e6" opacity="0.3"/>
<rect x="480" y="287.6" width="1" height="5.0" fill="#c8c8c8" opacity="0.3"/>
<rect x="481" y="287.6" width="1" height="5.0" fill="#787878" opacity="0.3"/>
<rect x="482" y="287.6" width="1" height="5.0" fill="#3c3c3c" opacity="0.3"/>
<rect x="483" y="287.6" width="1" height="5.0" fill="#6e6e6e" opacity="0.3"/>
<rect x="484" y="287.6" width="1" height="5.0" fill="#c8c8c8" opacity="0.3"/>
<rect x="485" y="287.6" width="1" height="5.0" fill="#f0f0f0" opacity="0.3"/>
<rect x="486" y="287.6" width="1" height="5.0" fill="#bebebe" opacity="0.3"/>
<rect x="487" y="287.6" width="1" height="5.0" fill="#aaaaaa" opacity="0.3"/>
<rect x="488" y="287.6" width="1" height="5.0" fill="#f0f0f0" opacity="0.3"/>
<rect x="489" y="287.6" width="1" height="5.0" fill="#8c8c8c" opacity="0.3"/>
<rect x="490" y="287.6" width="1" height="5.0" fill="#464646" opacity="0.3"/>
<rect x="491" y="287.6" width="1" height="5.0" fill="#8c8c8c" opacity="0.3"/>
<line x1="351.4" y1="287.6" x2="501.0" y2="287.6" stroke="#888" stroke-width="0.6"/>
<line x1="351.4" y1="292.6" x2="501.0" y2="292.6" stroke="#888" stroke-width="0.7"/>
<line x1="351.4" y1="304.3" x2="501.0" y2="304.3" stroke="#e4e4e4" stroke-width="0.8"/>
<line x1="351.4" y1="323.3" x2="501.0" y2="323.3" stroke="#e4e4e4" stroke-width="0.8"/>
<line x1="379.6" y1="292.6" x2="379.6" y2="334.9" stroke="#e4e4e4" stroke-width="0.8"/>
<line x1="407.6" y1="292.6" x2="407.6" y2="334.9" stroke="#e4e4e4" stroke-width="0.8"/>
<line x1="435.2" y1="292.6" x2="435.2" y2="334.9" stroke="#e4e4e4" stroke-width="0.8"/>
<line x1="462.6" y1="292.6" x2="462.6" y2="334.9" stroke="#e4e4e4" stroke-width="0.8"/>
<line x1="490.7" y1="292.6" x2="490.7" y2="334.9" stroke="#e4e4e4" stroke-width="0.8"/>
<line x1="425.9" y1="292.6" x2="425.9" y2="334.9" stroke="#777" stroke-width="0.7" stroke-dasharray="1 1"/>
<path d="M351.4,314 L351.4,295.0 L351.5,296.3 L352,300.5 L352.6,302.6 L354,304.4 L356.1,306 L358.9,307.4 L363,308.8 L368.6,310.2 L375.6,311.3 L383.9,311.9 L393.6,312.3 L405,312.7 L415,313.1 L425.9,313.6 L425.9,313.6 L440,314.2 L455,315.0 L465,315.8 L473.5,316.7 L481.9,318.2 L486,319.6 L488.3,321 L490,322.5 L491.4,324.1 L492.4,326.2 L493.1,328.4 L493.7,331 L494,332.8 L494.2,314 Z" fill="#7a7a7a" stroke="#6a6a6a" stroke-width="0.4"/>
<line x1="351.4" y1="313.8" x2="494.2" y2="313.8" stroke="#555" stroke-width="0.8"/>
<line x1="350.3" y1="294.8" x2="351.4" y2="294.8" stroke="#666" stroke-width="0.7"/>
<text x="347.7" y="296.6" font-size="5.0" text-anchor="end" fill="#222" textLength="7.0" lengthAdjust="spacingAndGlyphs">5.0</text>
<line x1="350.3" y1="304.3" x2="351.4" y2="304.3" stroke="#666" stroke-width="0.7"/>
<text x="347.7" y="306.1" font-size="5.0" text-anchor="end" fill="#222" textLength="7.0" lengthAdjust="spacingAndGlyphs">2.5</text>
<line x1="350.3" y1="313.8" x2="351.4" y2="313.8" stroke="#666" stroke-width="0.7"/>
<text x="347.7" y="315.6" font-size="5.0" text-anchor="end" fill="#222" textLength="7.0" lengthAdjust="spacingAndGlyphs">0.0</text>
<line x1="350.3" y1="323.3" x2="351.4" y2="323.3" stroke="#666" stroke-width="0.7"/>
<text x="347.7" y="325.1" font-size="5.0" text-anchor="end" fill="#222" textLength="8.4" lengthAdjust="spacingAndGlyphs">-2.5</text>
<line x1="350.3" y1="332.8" x2="351.4" y2="332.8" stroke="#666" stroke-width="0.7"/>
<text x="347.7" y="334.6" font-size="5.0" text-anchor="end" fill="#222" textLength="8.4" lengthAdjust="spacingAndGlyphs">-5.0</text>
<text x="353.3" y="296.8" font-size="4.2" text-anchor="start" fill="#222" textLength="43.1" lengthAdjust="spacingAndGlyphs">‘1’ (positively correlated)</text>
<text x="426.5" y="333.1" font-size="4.2" text-anchor="start" fill="#222" textLength="44.8" lengthAdjust="spacingAndGlyphs">‘2’ (negatively correlated)</text>
<text x="408.5" y="315.0" font-size="3.8" text-anchor="start" fill="#222" textLength="33.0" lengthAdjust="spacingAndGlyphs">Zero cross at 13374</text>
<rect x="351.4" y="202.2" width="149.60000000000002" height="132.7" fill="none" stroke="#999" stroke-width="0.9"/>
<line x1="351.4" y1="266.6" x2="501.0" y2="266.6" stroke="#aaa" stroke-width="0.7"/>
<line x1="351.4" y1="202.2" x2="351.4" y2="334.9" stroke="#777" stroke-width="1.0"/>
<line x1="351.2" y1="334.9" x2="351.2" y2="336.09999999999997" stroke="#666" stroke-width="0.7"/>
<text x="351.2" y="343.3" font-size="5.0" text-anchor="middle" fill="#222" textLength="2.6" lengthAdjust="spacingAndGlyphs">0</text>
<line x1="379.5" y1="334.9" x2="379.5" y2="336.09999999999997" stroke="#666" stroke-width="0.7"/>
<text x="379.5" y="343.3" font-size="5.0" text-anchor="middle" fill="#222" textLength="12.6" lengthAdjust="spacingAndGlyphs">5,000</text>
<line x1="407.3" y1="334.9" x2="407.3" y2="336.09999999999997" stroke="#666" stroke-width="0.7"/>
<text x="407.3" y="343.3" font-size="5.0" text-anchor="middle" fill="#222" textLength="15.4" lengthAdjust="spacingAndGlyphs">10,000</text>
<line x1="435.4" y1="334.9" x2="435.4" y2="336.09999999999997" stroke="#666" stroke-width="0.7"/>
<text x="435.4" y="343.3" font-size="5.0" text-anchor="middle" fill="#222" textLength="15.4" lengthAdjust="spacingAndGlyphs">15,000</text>
<line x1="462.9" y1="334.9" x2="462.9" y2="336.09999999999997" stroke="#666" stroke-width="0.7"/>
<text x="462.9" y="343.3" font-size="5.0" text-anchor="middle" fill="#222" textLength="15.4" lengthAdjust="spacingAndGlyphs">20,000</text>
<line x1="491.4" y1="334.9" x2="491.4" y2="336.09999999999997" stroke="#666" stroke-width="0.7"/>
<text x="491.4" y="343.3" font-size="5.0" text-anchor="middle" fill="#222" textLength="15.4" lengthAdjust="spacingAndGlyphs">25,000</text>
<text x="388.0" y="355.0" font-size="8.7" text-anchor="start" fill="#1a1a1a" textLength="74.6" lengthAdjust="spacingAndGlyphs" stroke="#1a1a1a" stroke-width="0.1">Rank in ordered dataset</text>
<text transform="translate(330.6,235.0) rotate(-90)" font-size="7.0" text-anchor="middle" fill="#1a1a1a" textLength="69.0" lengthAdjust="spacingAndGlyphs" stroke="#1a1a1a" stroke-width="0.25">Enrichment score (ES)</text>
<text transform="translate(323.3,313.3) rotate(-90)" font-size="7.0" text-anchor="middle" fill="#1a1a1a" textLength="54.6" lengthAdjust="spacingAndGlyphs" stroke="#1a1a1a" stroke-width="0.25">Ranked list metric</text>
<text transform="translate(331.8,313.3) rotate(-90)" font-size="7.0" text-anchor="middle" fill="#1a1a1a" textLength="46.0" lengthAdjust="spacingAndGlyphs" stroke="#1a1a1a" stroke-width="0.25">(Signal2Noise)</text>
<line x1="353.1" y1="364.0" x2="358.8" y2="364.0" stroke="#999" stroke-width="1.1"/>
<text x="362.1" y="365.8" font-size="5.8" text-anchor="start" fill="#333" textLength="41.4" lengthAdjust="spacingAndGlyphs">Enrichment profile</text>
<line x1="406.3" y1="364.0" x2="412.1" y2="364.0" stroke="#1a1a1a" stroke-width="1.4"/>
<text x="415.0" y="365.8" font-size="5.8" text-anchor="start" fill="#333" textLength="9.2" lengthAdjust="spacingAndGlyphs">Hits</text>
<line x1="430.0" y1="363.0" x2="435.4" y2="363.0" stroke="#aaa" stroke-width="1.0"/>
<line x1="438.3" y1="364.5" x2="444.0" y2="364.5" stroke="#777" stroke-width="1.0"/>
<text x="446.9" y="365.8" font-size="5.8" text-anchor="start" fill="#333" textLength="50.0" lengthAdjust="spacingAndGlyphs">Ranking metric scores</text>
</svg>
</body></html>
